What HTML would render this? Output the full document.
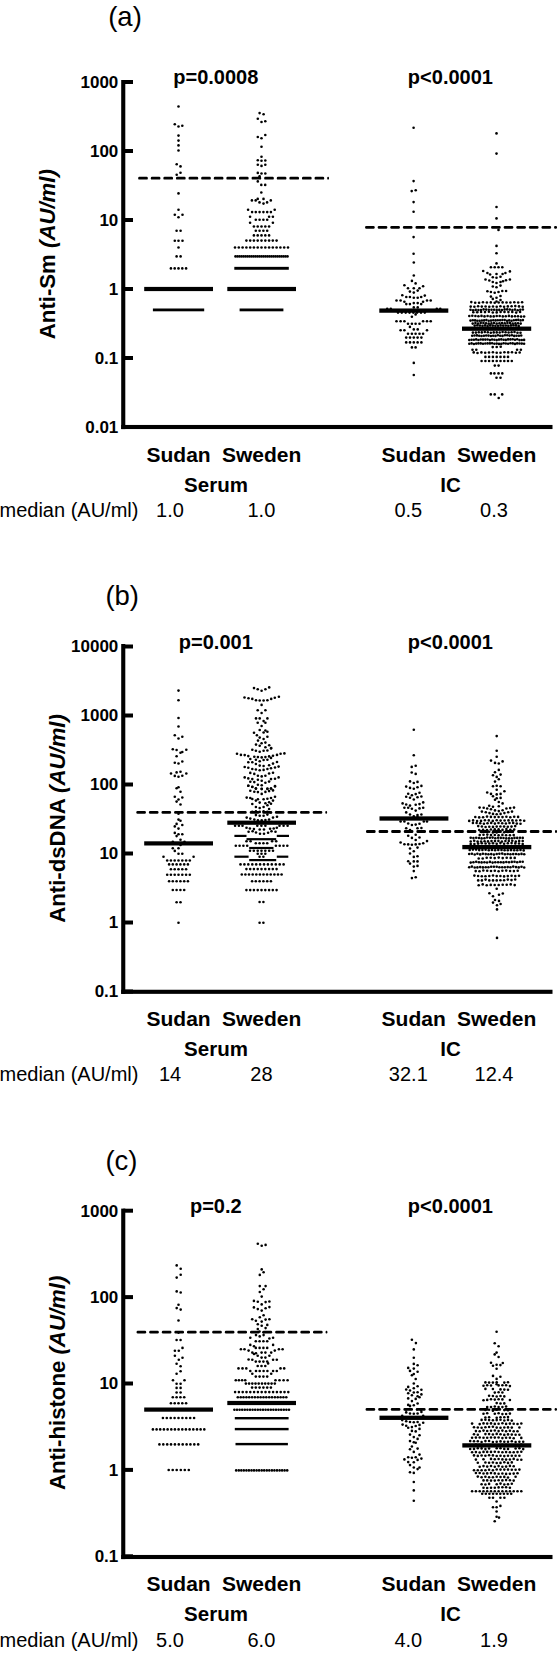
<!DOCTYPE html>
<html><head><meta charset="utf-8"><style>
html,body{margin:0;padding:0;background:#fff;overflow:hidden;width:557px;height:1654px;}
svg{display:block;}
text{font-family:"Liberation Sans",sans-serif;fill:#000;}
</style></head><body>
<svg width="557" height="1654" viewBox="0 0 557 1654">
<rect width="557" height="1654" fill="#fff"/>
<g fill="#000">
<rect x="121.20" y="80.0" width="4.10" height="349.1"/>
<rect x="121.2" y="424.95" width="431.3" height="4.10"/>
<rect x="123.2" y="80.00" width="9.8" height="4.00"/>
<text x="118.3" y="87.8" font-size="17" font-weight="bold" text-anchor="end" >1000</text>
<rect x="123.2" y="149.00" width="9.8" height="4.00"/>
<text x="118.3" y="156.8" font-size="17" font-weight="bold" text-anchor="end" >100</text>
<rect x="123.2" y="218.00" width="9.8" height="4.00"/>
<text x="118.3" y="225.8" font-size="17" font-weight="bold" text-anchor="end" >10</text>
<rect x="123.2" y="287.00" width="9.8" height="4.00"/>
<text x="118.3" y="294.8" font-size="17" font-weight="bold" text-anchor="end" >1</text>
<rect x="123.2" y="356.00" width="9.8" height="4.00"/>
<text x="118.3" y="363.8" font-size="17" font-weight="bold" text-anchor="end" >0.1</text>
<text x="118.3" y="432.8" font-size="17" font-weight="bold" text-anchor="end" >0.01</text>
<text x="108.2" y="25.5" font-size="27.5" font-weight="normal" text-anchor="start" >(a)</text>
<text transform="translate(55.1,339.2) rotate(-90)" font-size="22.2" font-weight="bold"><tspan>Anti-Sm </tspan><tspan font-style="italic">(AU/ml)</tspan></text>
<text x="215.8" y="84.4" font-size="20" font-weight="bold" text-anchor="middle" >p=0.0008</text>
<text x="450.4" y="84.4" font-size="20" font-weight="bold" text-anchor="middle" >p&lt;0.0001</text>
<text x="178.6" y="461.5" font-size="21" font-weight="bold" text-anchor="middle" >Sudan</text>
<text x="261.7" y="461.5" font-size="21" font-weight="bold" text-anchor="middle" >Sweden</text>
<text x="413.7" y="461.5" font-size="21" font-weight="bold" text-anchor="middle" >Sudan</text>
<text x="496.6" y="461.5" font-size="21" font-weight="bold" text-anchor="middle" >Sweden</text>
<text x="216" y="492" font-size="20.5" font-weight="bold" text-anchor="middle" >Serum</text>
<text x="450.6" y="492" font-size="20.5" font-weight="bold" text-anchor="middle" >IC</text>
<text x="-0.5" y="516.6" font-size="20" font-weight="normal" text-anchor="start" >median (AU/ml)</text>
<text x="170" y="516.6" font-size="20" font-weight="normal" text-anchor="middle" >1.0</text>
<text x="261.4" y="516.6" font-size="20" font-weight="normal" text-anchor="middle" >1.0</text>
<text x="408.3" y="516.6" font-size="20" font-weight="normal" text-anchor="middle" >0.5</text>
<text x="494" y="516.6" font-size="20" font-weight="normal" text-anchor="middle" >0.3</text>
<rect x="138.2" y="176.80" width="9.6" height="2.8" rx="1.2"/>
<rect x="150.8" y="176.80" width="9.6" height="2.8" rx="1.2"/>
<rect x="163.4" y="176.80" width="9.6" height="2.8" rx="1.2"/>
<rect x="176.0" y="176.80" width="9.6" height="2.8" rx="1.2"/>
<rect x="188.6" y="176.80" width="9.6" height="2.8" rx="1.2"/>
<rect x="201.2" y="176.80" width="9.6" height="2.8" rx="1.2"/>
<rect x="213.8" y="176.80" width="9.6" height="2.8" rx="1.2"/>
<rect x="226.4" y="176.80" width="9.6" height="2.8" rx="1.2"/>
<rect x="239.0" y="176.80" width="9.6" height="2.8" rx="1.2"/>
<rect x="251.6" y="176.80" width="9.6" height="2.8" rx="1.2"/>
<rect x="264.2" y="176.80" width="9.6" height="2.8" rx="1.2"/>
<rect x="276.8" y="176.80" width="9.6" height="2.8" rx="1.2"/>
<rect x="289.4" y="176.80" width="9.6" height="2.8" rx="1.2"/>
<rect x="302.0" y="176.80" width="9.6" height="2.8" rx="1.2"/>
<rect x="314.6" y="176.80" width="9.6" height="2.8" rx="1.2"/>
<rect x="327.2" y="176.80" width="1.8" height="2.8" rx="1.2"/>
<rect x="365.1" y="225.90" width="9.6" height="2.8" rx="1.2"/>
<rect x="377.7" y="225.90" width="9.6" height="2.8" rx="1.2"/>
<rect x="390.3" y="225.90" width="9.6" height="2.8" rx="1.2"/>
<rect x="402.9" y="225.90" width="9.6" height="2.8" rx="1.2"/>
<rect x="415.5" y="225.90" width="9.6" height="2.8" rx="1.2"/>
<rect x="428.1" y="225.90" width="9.6" height="2.8" rx="1.2"/>
<rect x="440.7" y="225.90" width="9.6" height="2.8" rx="1.2"/>
<rect x="453.3" y="225.90" width="9.6" height="2.8" rx="1.2"/>
<rect x="465.9" y="225.90" width="9.6" height="2.8" rx="1.2"/>
<rect x="478.5" y="225.90" width="9.6" height="2.8" rx="1.2"/>
<rect x="491.1" y="225.90" width="9.6" height="2.8" rx="1.2"/>
<rect x="503.7" y="225.90" width="9.6" height="2.8" rx="1.2"/>
<rect x="516.3" y="225.90" width="9.6" height="2.8" rx="1.2"/>
<rect x="528.9" y="225.90" width="9.6" height="2.8" rx="1.2"/>
<rect x="541.5" y="225.90" width="9.6" height="2.8" rx="1.2"/>
<rect x="554.1" y="225.90" width="2.9" height="2.8" rx="1.2"/>
<rect x="144.2" y="286.90" width="68.8" height="4.20"/>
<rect x="227.3" y="286.90" width="68.7" height="4.20"/>
<rect x="379.3" y="308.45" width="69.0" height="4.30"/>
<rect x="462.0" y="326.55" width="69.2" height="4.30"/>
<circle cx="178.5" cy="106.5" r="1.3"/>
<circle cx="174.8" cy="124.3" r="1.3"/>
<circle cx="178.5" cy="126.5" r="1.3"/>
<circle cx="182.3" cy="125.7" r="1.3"/>
<circle cx="178.5" cy="135.6" r="1.3"/>
<circle cx="178.5" cy="140.6" r="1.3"/>
<circle cx="178.5" cy="145.4" r="1.3"/>
<circle cx="178.5" cy="150.5" r="1.3"/>
<circle cx="176.7" cy="164.2" r="1.3"/>
<circle cx="180.5" cy="166.4" r="1.3"/>
<circle cx="180.5" cy="172.8" r="1.3"/>
<circle cx="176.7" cy="174.8" r="1.3"/>
<circle cx="178.5" cy="193.4" r="1.3"/>
<circle cx="178.5" cy="209.8" r="1.3"/>
<circle cx="174.8" cy="214.7" r="1.3"/>
<circle cx="182.5" cy="214.7" r="1.3"/>
<circle cx="178.5" cy="217.3" r="1.3"/>
<circle cx="176.6" cy="230.8" r="1.3"/>
<circle cx="180.6" cy="230.8" r="1.3"/>
<circle cx="174.8" cy="240.7" r="1.3"/>
<circle cx="178.5" cy="240.7" r="1.3"/>
<circle cx="182.5" cy="240.7" r="1.3"/>
<circle cx="178.5" cy="247.5" r="1.3"/>
<circle cx="176.6" cy="256.4" r="1.3"/>
<circle cx="180.6" cy="256.4" r="1.3"/>
<circle cx="170.9" cy="268.4" r="1.3"/>
<circle cx="174.7" cy="268.4" r="1.3"/>
<circle cx="178.5" cy="268.4" r="1.3"/>
<circle cx="182.3" cy="268.4" r="1.3"/>
<circle cx="186.1" cy="268.4" r="1.3"/>
<rect x="152.9" y="308.50" width="51.3" height="2.80"/>
<circle cx="259.6" cy="113.1" r="1.3"/>
<circle cx="263.6" cy="114.2" r="1.3"/>
<circle cx="257.8" cy="118.8" r="1.3"/>
<circle cx="261.5" cy="122.0" r="1.3"/>
<circle cx="265.3" cy="121.2" r="1.3"/>
<circle cx="257.8" cy="137.0" r="1.3"/>
<circle cx="261.5" cy="138.2" r="1.3"/>
<circle cx="265.3" cy="135.0" r="1.3"/>
<circle cx="261.5" cy="146.7" r="1.3"/>
<circle cx="261.5" cy="156.7" r="1.3"/>
<circle cx="257.8" cy="160.2" r="1.3"/>
<circle cx="261.5" cy="160.8" r="1.3"/>
<circle cx="265.3" cy="160.5" r="1.3"/>
<circle cx="257.8" cy="164.8" r="1.3"/>
<circle cx="261.5" cy="165.9" r="1.3"/>
<circle cx="265.3" cy="164.8" r="1.3"/>
<circle cx="257.8" cy="172.9" r="1.3"/>
<circle cx="261.5" cy="173.5" r="1.3"/>
<circle cx="265.3" cy="173.5" r="1.3"/>
<circle cx="259.6" cy="176.3" r="1.3"/>
<circle cx="257.8" cy="181.4" r="1.3"/>
<circle cx="261.3" cy="184.9" r="1.3"/>
<circle cx="265.2" cy="184.9" r="1.3"/>
<circle cx="261.3" cy="192.5" r="1.3"/>
<circle cx="251.9" cy="200.4" r="1.3"/>
<circle cx="255.7" cy="200.4" r="1.3"/>
<circle cx="257.7" cy="198.9" r="1.3"/>
<circle cx="263.5" cy="198.9" r="1.3"/>
<circle cx="270.8" cy="200.4" r="1.3"/>
<circle cx="259.5" cy="202.4" r="1.3"/>
<circle cx="263.5" cy="203.6" r="1.3"/>
<circle cx="267.1" cy="202.4" r="1.3"/>
<circle cx="248.1" cy="209.8" r="1.3"/>
<circle cx="274.7" cy="209.8" r="1.3"/>
<circle cx="250.1" cy="216.8" r="1.3"/>
<circle cx="269.1" cy="216.8" r="1.3"/>
<circle cx="272.9" cy="216.8" r="1.3"/>
<circle cx="250.1" cy="222.8" r="1.3"/>
<circle cx="272.9" cy="222.8" r="1.3"/>
<circle cx="252.1" cy="212.1" r="1.3"/>
<circle cx="255.8" cy="212.1" r="1.3"/>
<circle cx="259.6" cy="212.1" r="1.3"/>
<circle cx="263.4" cy="212.1" r="1.3"/>
<circle cx="267.2" cy="212.1" r="1.3"/>
<circle cx="270.9" cy="212.1" r="1.3"/>
<circle cx="255.8" cy="219.7" r="1.3"/>
<circle cx="259.6" cy="219.7" r="1.3"/>
<circle cx="263.4" cy="219.7" r="1.3"/>
<circle cx="267.2" cy="219.7" r="1.3"/>
<circle cx="253.9" cy="226.5" r="1.3"/>
<circle cx="257.7" cy="226.5" r="1.3"/>
<circle cx="261.5" cy="226.5" r="1.3"/>
<circle cx="265.3" cy="226.5" r="1.3"/>
<circle cx="269.1" cy="226.5" r="1.3"/>
<circle cx="255.8" cy="230.7" r="1.3"/>
<circle cx="259.6" cy="230.7" r="1.3"/>
<circle cx="263.4" cy="230.7" r="1.3"/>
<circle cx="267.2" cy="230.7" r="1.3"/>
<circle cx="253.9" cy="235.4" r="1.3"/>
<circle cx="257.7" cy="235.4" r="1.3"/>
<circle cx="261.5" cy="235.4" r="1.3"/>
<circle cx="265.3" cy="235.4" r="1.3"/>
<circle cx="269.1" cy="235.4" r="1.3"/>
<circle cx="246.4" cy="240.6" r="1.3"/>
<circle cx="250.2" cy="240.6" r="1.3"/>
<circle cx="253.9" cy="240.6" r="1.3"/>
<circle cx="257.7" cy="240.6" r="1.3"/>
<circle cx="261.5" cy="240.6" r="1.3"/>
<circle cx="265.3" cy="240.6" r="1.3"/>
<circle cx="269.1" cy="240.6" r="1.3"/>
<circle cx="272.8" cy="240.6" r="1.3"/>
<circle cx="276.6" cy="240.6" r="1.3"/>
<circle cx="235.0" cy="247.5" r="1.3"/>
<circle cx="238.8" cy="247.5" r="1.3"/>
<circle cx="242.6" cy="247.5" r="1.3"/>
<circle cx="246.4" cy="247.5" r="1.3"/>
<circle cx="250.2" cy="247.5" r="1.3"/>
<circle cx="253.9" cy="247.5" r="1.3"/>
<circle cx="257.7" cy="247.5" r="1.3"/>
<circle cx="261.5" cy="247.5" r="1.3"/>
<circle cx="265.3" cy="247.5" r="1.3"/>
<circle cx="269.1" cy="247.5" r="1.3"/>
<circle cx="272.8" cy="247.5" r="1.3"/>
<circle cx="276.6" cy="247.5" r="1.3"/>
<circle cx="280.4" cy="247.5" r="1.3"/>
<circle cx="284.2" cy="247.5" r="1.3"/>
<circle cx="288.0" cy="247.5" r="1.3"/>
<circle cx="235.5" cy="256.4" r="1.3"/>
<circle cx="237.5" cy="256.4" r="1.3"/>
<circle cx="239.5" cy="256.4" r="1.3"/>
<circle cx="241.5" cy="256.4" r="1.3"/>
<circle cx="243.5" cy="256.4" r="1.3"/>
<circle cx="245.5" cy="256.4" r="1.3"/>
<circle cx="247.5" cy="256.4" r="1.3"/>
<circle cx="249.5" cy="256.4" r="1.3"/>
<circle cx="251.5" cy="256.4" r="1.3"/>
<circle cx="253.5" cy="256.4" r="1.3"/>
<circle cx="255.5" cy="256.4" r="1.3"/>
<circle cx="257.5" cy="256.4" r="1.3"/>
<circle cx="259.5" cy="256.4" r="1.3"/>
<circle cx="261.5" cy="256.4" r="1.3"/>
<circle cx="263.5" cy="256.4" r="1.3"/>
<circle cx="265.5" cy="256.4" r="1.3"/>
<circle cx="267.5" cy="256.4" r="1.3"/>
<circle cx="269.5" cy="256.4" r="1.3"/>
<circle cx="271.5" cy="256.4" r="1.3"/>
<circle cx="273.5" cy="256.4" r="1.3"/>
<circle cx="275.5" cy="256.4" r="1.3"/>
<circle cx="277.5" cy="256.4" r="1.3"/>
<circle cx="279.5" cy="256.4" r="1.3"/>
<circle cx="281.5" cy="256.4" r="1.3"/>
<circle cx="283.5" cy="256.4" r="1.3"/>
<circle cx="285.5" cy="256.4" r="1.3"/>
<circle cx="287.5" cy="256.4" r="1.3"/>
<rect x="234.3" y="266.85" width="54.5" height="2.90"/>
<rect x="239.6" y="308.50" width="43.8" height="2.80"/>
<circle cx="413.6" cy="127.8" r="1.3"/>
<circle cx="413.6" cy="181.1" r="1.3"/>
<circle cx="411.7" cy="191.1" r="1.3"/>
<circle cx="415.7" cy="190.3" r="1.3"/>
<circle cx="413.6" cy="202.1" r="1.3"/>
<circle cx="413.6" cy="211.8" r="1.3"/>
<circle cx="413.6" cy="237.1" r="1.3"/>
<circle cx="413.6" cy="253.8" r="1.3"/>
<circle cx="413.8" cy="262.5" r="1.3"/>
<circle cx="413.8" cy="275.5" r="1.3"/>
<circle cx="411.9" cy="280.9" r="1.3"/>
<circle cx="415.6" cy="283.4" r="1.3"/>
<circle cx="404.4" cy="285.2" r="1.3"/>
<circle cx="423.1" cy="286.3" r="1.3"/>
<circle cx="408.0" cy="288.3" r="1.3"/>
<circle cx="413.8" cy="288.3" r="1.3"/>
<circle cx="419.5" cy="288.3" r="1.3"/>
<circle cx="409.9" cy="291.6" r="1.3"/>
<circle cx="413.8" cy="292.6" r="1.3"/>
<circle cx="417.7" cy="290.6" r="1.3"/>
<circle cx="402.3" cy="295.2" r="1.3"/>
<circle cx="424.8" cy="295.6" r="1.3"/>
<circle cx="406.3" cy="297.0" r="1.3"/>
<circle cx="409.9" cy="297.0" r="1.3"/>
<circle cx="413.8" cy="297.8" r="1.3"/>
<circle cx="417.7" cy="297.8" r="1.3"/>
<circle cx="421.2" cy="297.0" r="1.3"/>
<circle cx="396.5" cy="300.5" r="1.3"/>
<circle cx="400.6" cy="300.5" r="1.3"/>
<circle cx="404.4" cy="301.7" r="1.3"/>
<circle cx="423.1" cy="301.7" r="1.3"/>
<circle cx="427.0" cy="300.5" r="1.3"/>
<circle cx="430.7" cy="300.5" r="1.3"/>
<circle cx="406.3" cy="304.1" r="1.3"/>
<circle cx="409.9" cy="304.1" r="1.3"/>
<circle cx="413.8" cy="303.1" r="1.3"/>
<circle cx="417.7" cy="303.1" r="1.3"/>
<circle cx="421.2" cy="304.1" r="1.3"/>
<circle cx="413.8" cy="307.4" r="1.3"/>
<circle cx="417.7" cy="307.4" r="1.3"/>
<circle cx="387.2" cy="308.9" r="1.3"/>
<circle cx="390.8" cy="308.9" r="1.3"/>
<circle cx="436.8" cy="308.9" r="1.3"/>
<circle cx="440.3" cy="308.9" r="1.3"/>
<circle cx="415.6" cy="314.4" r="1.3"/>
<circle cx="411.9" cy="316.8" r="1.3"/>
<circle cx="409.9" cy="326.9" r="1.3"/>
<circle cx="400.6" cy="330.2" r="1.3"/>
<circle cx="404.4" cy="330.2" r="1.3"/>
<circle cx="413.8" cy="329.4" r="1.3"/>
<circle cx="417.7" cy="329.4" r="1.3"/>
<circle cx="427.0" cy="330.2" r="1.3"/>
<circle cx="423.1" cy="333.8" r="1.3"/>
<circle cx="411.9" cy="347.4" r="1.3"/>
<circle cx="415.6" cy="347.4" r="1.3"/>
<circle cx="413.8" cy="362.9" r="1.3"/>
<circle cx="413.8" cy="375.0" r="1.3"/>
<circle cx="398.0" cy="312.6" r="1.3"/>
<circle cx="401.8" cy="312.6" r="1.3"/>
<circle cx="405.7" cy="312.6" r="1.3"/>
<circle cx="409.5" cy="312.6" r="1.3"/>
<circle cx="413.3" cy="312.6" r="1.3"/>
<circle cx="417.1" cy="312.6" r="1.3"/>
<circle cx="421.0" cy="312.6" r="1.3"/>
<circle cx="424.8" cy="312.6" r="1.3"/>
<circle cx="396.5" cy="321.3" r="1.3"/>
<circle cx="400.6" cy="321.3" r="1.3"/>
<circle cx="404.4" cy="321.3" r="1.3"/>
<circle cx="423.1" cy="321.3" r="1.3"/>
<circle cx="427.0" cy="321.3" r="1.3"/>
<circle cx="430.7" cy="321.3" r="1.3"/>
<circle cx="408.0" cy="323.7" r="1.3"/>
<circle cx="411.9" cy="323.7" r="1.3"/>
<circle cx="415.6" cy="323.7" r="1.3"/>
<circle cx="419.5" cy="323.7" r="1.3"/>
<circle cx="408.0" cy="333.8" r="1.3"/>
<circle cx="411.9" cy="333.8" r="1.3"/>
<circle cx="415.6" cy="333.8" r="1.3"/>
<circle cx="419.5" cy="333.8" r="1.3"/>
<circle cx="406.2" cy="337.6" r="1.3"/>
<circle cx="410.0" cy="337.6" r="1.3"/>
<circle cx="413.8" cy="337.6" r="1.3"/>
<circle cx="417.6" cy="337.6" r="1.3"/>
<circle cx="421.4" cy="337.6" r="1.3"/>
<circle cx="406.2" cy="342.4" r="1.3"/>
<circle cx="410.0" cy="342.4" r="1.3"/>
<circle cx="413.8" cy="342.4" r="1.3"/>
<circle cx="417.6" cy="342.4" r="1.3"/>
<circle cx="421.4" cy="342.4" r="1.3"/>
<circle cx="496.5" cy="133.4" r="1.3"/>
<circle cx="496.5" cy="153.6" r="1.3"/>
<circle cx="496.5" cy="207.0" r="1.3"/>
<circle cx="496.5" cy="218.4" r="1.3"/>
<circle cx="498.5" cy="229.9" r="1.3"/>
<circle cx="496.5" cy="245.9" r="1.3"/>
<circle cx="496.5" cy="253.2" r="1.3"/>
<circle cx="496.5" cy="263.4" r="1.3"/>
<circle cx="490.9" cy="267.2" r="1.3"/>
<circle cx="494.7" cy="267.2" r="1.3"/>
<circle cx="498.5" cy="267.2" r="1.3"/>
<circle cx="502.3" cy="267.2" r="1.3"/>
<circle cx="483.2" cy="271.0" r="1.3"/>
<circle cx="509.9" cy="271.4" r="1.3"/>
<circle cx="487.4" cy="273.0" r="1.3"/>
<circle cx="490.1" cy="274.5" r="1.3"/>
<circle cx="496.5" cy="274.0" r="1.3"/>
<circle cx="502.6" cy="274.0" r="1.3"/>
<circle cx="505.4" cy="273.0" r="1.3"/>
<circle cx="492.8" cy="277.3" r="1.3"/>
<circle cx="496.5" cy="277.8" r="1.3"/>
<circle cx="500.5" cy="276.8" r="1.3"/>
<circle cx="485.5" cy="279.5" r="1.3"/>
<circle cx="489.3" cy="280.5" r="1.3"/>
<circle cx="492.8" cy="282.0" r="1.3"/>
<circle cx="496.5" cy="283.0" r="1.3"/>
<circle cx="500.5" cy="282.0" r="1.3"/>
<circle cx="503.0" cy="281.3" r="1.3"/>
<circle cx="506.0" cy="280.2" r="1.3"/>
<circle cx="509.9" cy="279.5" r="1.3"/>
<circle cx="492.8" cy="286.5" r="1.3"/>
<circle cx="496.5" cy="287.2" r="1.3"/>
<circle cx="500.5" cy="285.6" r="1.3"/>
<circle cx="487.4" cy="291.3" r="1.3"/>
<circle cx="490.9" cy="292.0" r="1.3"/>
<circle cx="494.7" cy="292.8" r="1.3"/>
<circle cx="498.5" cy="292.0" r="1.3"/>
<circle cx="502.3" cy="291.0" r="1.3"/>
<circle cx="506.1" cy="291.0" r="1.3"/>
<circle cx="490.9" cy="296.6" r="1.3"/>
<circle cx="492.8" cy="298.9" r="1.3"/>
<circle cx="496.5" cy="297.8" r="1.3"/>
<circle cx="500.5" cy="296.0" r="1.3"/>
<circle cx="500.5" cy="300.0" r="1.3"/>
<circle cx="496.5" cy="301.5" r="1.3"/>
<circle cx="471.3" cy="302.1" r="1.3"/>
<circle cx="475.2" cy="302.8" r="1.3"/>
<circle cx="479.1" cy="302.7" r="1.3"/>
<circle cx="483.0" cy="302.3" r="1.3"/>
<circle cx="486.9" cy="302.5" r="1.3"/>
<circle cx="490.8" cy="302.4" r="1.3"/>
<circle cx="494.7" cy="302.7" r="1.3"/>
<circle cx="498.7" cy="302.5" r="1.3"/>
<circle cx="502.6" cy="302.4" r="1.3"/>
<circle cx="506.5" cy="302.5" r="1.3"/>
<circle cx="510.4" cy="302.5" r="1.3"/>
<circle cx="514.3" cy="302.2" r="1.3"/>
<circle cx="518.2" cy="302.5" r="1.3"/>
<circle cx="522.1" cy="302.3" r="1.3"/>
<circle cx="470.7" cy="306.6" r="1.3"/>
<circle cx="474.4" cy="306.8" r="1.3"/>
<circle cx="478.1" cy="306.2" r="1.3"/>
<circle cx="481.8" cy="306.6" r="1.3"/>
<circle cx="485.6" cy="306.5" r="1.3"/>
<circle cx="489.3" cy="306.7" r="1.3"/>
<circle cx="493.0" cy="306.5" r="1.3"/>
<circle cx="496.7" cy="306.8" r="1.3"/>
<circle cx="500.4" cy="306.2" r="1.3"/>
<circle cx="504.1" cy="306.7" r="1.3"/>
<circle cx="507.8" cy="306.4" r="1.3"/>
<circle cx="511.6" cy="306.2" r="1.3"/>
<circle cx="515.3" cy="306.1" r="1.3"/>
<circle cx="519.0" cy="306.4" r="1.3"/>
<circle cx="522.7" cy="306.8" r="1.3"/>
<circle cx="470.5" cy="309.8" r="1.3"/>
<circle cx="473.1" cy="310.2" r="1.3"/>
<circle cx="475.7" cy="309.9" r="1.3"/>
<circle cx="478.4" cy="310.1" r="1.3"/>
<circle cx="481.0" cy="310.1" r="1.3"/>
<circle cx="483.6" cy="309.4" r="1.3"/>
<circle cx="486.2" cy="309.6" r="1.3"/>
<circle cx="488.8" cy="309.8" r="1.3"/>
<circle cx="491.5" cy="309.8" r="1.3"/>
<circle cx="494.1" cy="309.7" r="1.3"/>
<circle cx="496.7" cy="309.9" r="1.3"/>
<circle cx="499.3" cy="309.9" r="1.3"/>
<circle cx="501.9" cy="310.1" r="1.3"/>
<circle cx="504.6" cy="309.4" r="1.3"/>
<circle cx="507.2" cy="309.4" r="1.3"/>
<circle cx="509.8" cy="309.6" r="1.3"/>
<circle cx="512.4" cy="310.1" r="1.3"/>
<circle cx="515.0" cy="309.6" r="1.3"/>
<circle cx="517.7" cy="310.2" r="1.3"/>
<circle cx="520.3" cy="309.7" r="1.3"/>
<circle cx="522.9" cy="309.5" r="1.3"/>
<circle cx="473.3" cy="312.2" r="1.3"/>
<circle cx="477.2" cy="312.2" r="1.3"/>
<circle cx="481.1" cy="312.0" r="1.3"/>
<circle cx="485.0" cy="312.1" r="1.3"/>
<circle cx="488.9" cy="311.8" r="1.3"/>
<circle cx="492.8" cy="312.5" r="1.3"/>
<circle cx="496.7" cy="312.4" r="1.3"/>
<circle cx="500.6" cy="312.0" r="1.3"/>
<circle cx="504.5" cy="311.9" r="1.3"/>
<circle cx="508.4" cy="312.1" r="1.3"/>
<circle cx="512.3" cy="311.9" r="1.3"/>
<circle cx="516.2" cy="312.6" r="1.3"/>
<circle cx="520.1" cy="312.0" r="1.3"/>
<circle cx="469.3" cy="316.0" r="1.3"/>
<circle cx="472.3" cy="315.8" r="1.3"/>
<circle cx="475.4" cy="316.0" r="1.3"/>
<circle cx="478.4" cy="316.3" r="1.3"/>
<circle cx="481.5" cy="315.9" r="1.3"/>
<circle cx="484.5" cy="316.4" r="1.3"/>
<circle cx="487.6" cy="316.0" r="1.3"/>
<circle cx="490.6" cy="316.4" r="1.3"/>
<circle cx="493.7" cy="316.4" r="1.3"/>
<circle cx="496.7" cy="316.0" r="1.3"/>
<circle cx="499.7" cy="316.0" r="1.3"/>
<circle cx="502.8" cy="316.4" r="1.3"/>
<circle cx="505.8" cy="316.3" r="1.3"/>
<circle cx="508.9" cy="315.9" r="1.3"/>
<circle cx="511.9" cy="316.4" r="1.3"/>
<circle cx="515.0" cy="316.2" r="1.3"/>
<circle cx="518.0" cy="316.2" r="1.3"/>
<circle cx="521.1" cy="316.6" r="1.3"/>
<circle cx="524.1" cy="316.5" r="1.3"/>
<circle cx="470.5" cy="320.6" r="1.3"/>
<circle cx="472.8" cy="320.3" r="1.3"/>
<circle cx="475.1" cy="320.4" r="1.3"/>
<circle cx="477.3" cy="320.7" r="1.3"/>
<circle cx="479.6" cy="320.7" r="1.3"/>
<circle cx="481.9" cy="320.5" r="1.3"/>
<circle cx="484.2" cy="320.4" r="1.3"/>
<circle cx="486.4" cy="320.1" r="1.3"/>
<circle cx="488.7" cy="320.7" r="1.3"/>
<circle cx="491.0" cy="320.6" r="1.3"/>
<circle cx="493.3" cy="320.3" r="1.3"/>
<circle cx="495.6" cy="320.4" r="1.3"/>
<circle cx="497.8" cy="320.2" r="1.3"/>
<circle cx="500.1" cy="320.2" r="1.3"/>
<circle cx="502.4" cy="320.0" r="1.3"/>
<circle cx="504.7" cy="320.1" r="1.3"/>
<circle cx="507.0" cy="320.7" r="1.3"/>
<circle cx="509.2" cy="320.4" r="1.3"/>
<circle cx="511.5" cy="320.7" r="1.3"/>
<circle cx="513.8" cy="320.3" r="1.3"/>
<circle cx="516.1" cy="320.1" r="1.3"/>
<circle cx="518.3" cy="319.9" r="1.3"/>
<circle cx="520.6" cy="320.4" r="1.3"/>
<circle cx="522.9" cy="320.1" r="1.3"/>
<circle cx="472.7" cy="323.6" r="1.3"/>
<circle cx="475.4" cy="323.0" r="1.3"/>
<circle cx="478.0" cy="323.6" r="1.3"/>
<circle cx="480.7" cy="322.9" r="1.3"/>
<circle cx="483.4" cy="323.0" r="1.3"/>
<circle cx="486.0" cy="323.3" r="1.3"/>
<circle cx="488.7" cy="323.6" r="1.3"/>
<circle cx="491.4" cy="323.4" r="1.3"/>
<circle cx="494.0" cy="323.0" r="1.3"/>
<circle cx="496.7" cy="323.6" r="1.3"/>
<circle cx="499.4" cy="323.2" r="1.3"/>
<circle cx="502.0" cy="323.1" r="1.3"/>
<circle cx="504.7" cy="323.2" r="1.3"/>
<circle cx="507.4" cy="323.1" r="1.3"/>
<circle cx="510.0" cy="323.0" r="1.3"/>
<circle cx="512.7" cy="323.5" r="1.3"/>
<circle cx="515.4" cy="323.4" r="1.3"/>
<circle cx="518.0" cy="323.3" r="1.3"/>
<circle cx="520.7" cy="323.6" r="1.3"/>
<circle cx="474.7" cy="325.6" r="1.3"/>
<circle cx="477.3" cy="325.3" r="1.3"/>
<circle cx="479.9" cy="325.5" r="1.3"/>
<circle cx="482.5" cy="325.8" r="1.3"/>
<circle cx="485.1" cy="325.4" r="1.3"/>
<circle cx="487.6" cy="325.9" r="1.3"/>
<circle cx="490.2" cy="325.4" r="1.3"/>
<circle cx="492.8" cy="325.6" r="1.3"/>
<circle cx="495.4" cy="325.8" r="1.3"/>
<circle cx="498.0" cy="325.8" r="1.3"/>
<circle cx="500.6" cy="325.4" r="1.3"/>
<circle cx="503.2" cy="325.6" r="1.3"/>
<circle cx="505.8" cy="325.5" r="1.3"/>
<circle cx="508.3" cy="325.7" r="1.3"/>
<circle cx="510.9" cy="325.4" r="1.3"/>
<circle cx="513.5" cy="325.3" r="1.3"/>
<circle cx="516.1" cy="325.4" r="1.3"/>
<circle cx="518.7" cy="325.9" r="1.3"/>
<circle cx="472.9" cy="332.6" r="1.3"/>
<circle cx="475.9" cy="332.6" r="1.3"/>
<circle cx="478.8" cy="332.3" r="1.3"/>
<circle cx="481.8" cy="332.4" r="1.3"/>
<circle cx="484.8" cy="332.0" r="1.3"/>
<circle cx="487.8" cy="332.2" r="1.3"/>
<circle cx="490.8" cy="332.7" r="1.3"/>
<circle cx="493.7" cy="332.4" r="1.3"/>
<circle cx="496.7" cy="332.4" r="1.3"/>
<circle cx="499.7" cy="332.5" r="1.3"/>
<circle cx="502.6" cy="332.0" r="1.3"/>
<circle cx="505.6" cy="332.2" r="1.3"/>
<circle cx="508.6" cy="332.5" r="1.3"/>
<circle cx="511.6" cy="332.2" r="1.3"/>
<circle cx="514.5" cy="332.0" r="1.3"/>
<circle cx="517.5" cy="332.7" r="1.3"/>
<circle cx="520.5" cy="332.7" r="1.3"/>
<circle cx="472.2" cy="335.7" r="1.3"/>
<circle cx="474.5" cy="335.5" r="1.3"/>
<circle cx="476.9" cy="335.4" r="1.3"/>
<circle cx="479.2" cy="335.7" r="1.3"/>
<circle cx="481.5" cy="336.0" r="1.3"/>
<circle cx="483.9" cy="335.8" r="1.3"/>
<circle cx="486.2" cy="335.5" r="1.3"/>
<circle cx="488.5" cy="335.6" r="1.3"/>
<circle cx="490.9" cy="336.0" r="1.3"/>
<circle cx="493.2" cy="335.7" r="1.3"/>
<circle cx="495.5" cy="335.9" r="1.3"/>
<circle cx="497.9" cy="335.2" r="1.3"/>
<circle cx="500.2" cy="335.8" r="1.3"/>
<circle cx="502.5" cy="335.9" r="1.3"/>
<circle cx="504.9" cy="335.3" r="1.3"/>
<circle cx="507.2" cy="335.3" r="1.3"/>
<circle cx="509.5" cy="335.6" r="1.3"/>
<circle cx="511.9" cy="335.3" r="1.3"/>
<circle cx="514.2" cy="335.9" r="1.3"/>
<circle cx="516.5" cy="335.8" r="1.3"/>
<circle cx="518.9" cy="335.7" r="1.3"/>
<circle cx="521.2" cy="335.5" r="1.3"/>
<circle cx="469.3" cy="340.0" r="1.3"/>
<circle cx="471.6" cy="339.8" r="1.3"/>
<circle cx="473.9" cy="339.7" r="1.3"/>
<circle cx="476.2" cy="339.4" r="1.3"/>
<circle cx="478.4" cy="340.0" r="1.3"/>
<circle cx="480.7" cy="339.5" r="1.3"/>
<circle cx="483.0" cy="339.6" r="1.3"/>
<circle cx="485.3" cy="339.6" r="1.3"/>
<circle cx="487.6" cy="339.5" r="1.3"/>
<circle cx="489.9" cy="340.1" r="1.3"/>
<circle cx="492.1" cy="339.5" r="1.3"/>
<circle cx="494.4" cy="339.7" r="1.3"/>
<circle cx="496.7" cy="340.1" r="1.3"/>
<circle cx="499.0" cy="339.6" r="1.3"/>
<circle cx="501.3" cy="339.4" r="1.3"/>
<circle cx="503.6" cy="339.7" r="1.3"/>
<circle cx="505.8" cy="339.9" r="1.3"/>
<circle cx="508.1" cy="339.4" r="1.3"/>
<circle cx="510.4" cy="339.4" r="1.3"/>
<circle cx="512.7" cy="339.3" r="1.3"/>
<circle cx="515.0" cy="339.8" r="1.3"/>
<circle cx="517.2" cy="339.3" r="1.3"/>
<circle cx="519.5" cy="340.1" r="1.3"/>
<circle cx="521.8" cy="340.0" r="1.3"/>
<circle cx="524.1" cy="339.9" r="1.3"/>
<circle cx="469.3" cy="343.7" r="1.3"/>
<circle cx="471.6" cy="343.4" r="1.3"/>
<circle cx="473.9" cy="344.0" r="1.3"/>
<circle cx="476.2" cy="343.6" r="1.3"/>
<circle cx="478.4" cy="343.4" r="1.3"/>
<circle cx="480.7" cy="343.4" r="1.3"/>
<circle cx="483.0" cy="343.7" r="1.3"/>
<circle cx="485.3" cy="343.5" r="1.3"/>
<circle cx="487.6" cy="343.4" r="1.3"/>
<circle cx="489.9" cy="343.4" r="1.3"/>
<circle cx="492.1" cy="343.3" r="1.3"/>
<circle cx="494.4" cy="343.7" r="1.3"/>
<circle cx="496.7" cy="343.6" r="1.3"/>
<circle cx="499.0" cy="343.9" r="1.3"/>
<circle cx="501.3" cy="343.9" r="1.3"/>
<circle cx="503.6" cy="343.3" r="1.3"/>
<circle cx="505.8" cy="343.5" r="1.3"/>
<circle cx="508.1" cy="343.7" r="1.3"/>
<circle cx="510.4" cy="343.3" r="1.3"/>
<circle cx="512.7" cy="343.4" r="1.3"/>
<circle cx="515.0" cy="343.9" r="1.3"/>
<circle cx="517.2" cy="343.4" r="1.3"/>
<circle cx="519.5" cy="343.5" r="1.3"/>
<circle cx="521.8" cy="343.6" r="1.3"/>
<circle cx="524.1" cy="343.7" r="1.3"/>
<circle cx="492.7" cy="347.1" r="1.3"/>
<circle cx="496.7" cy="347.0" r="1.3"/>
<circle cx="500.7" cy="346.7" r="1.3"/>
<circle cx="473.7" cy="352.4" r="1.3"/>
<circle cx="477.5" cy="353.0" r="1.3"/>
<circle cx="481.4" cy="352.4" r="1.3"/>
<circle cx="485.2" cy="352.8" r="1.3"/>
<circle cx="489.0" cy="352.5" r="1.3"/>
<circle cx="492.9" cy="352.3" r="1.3"/>
<circle cx="496.7" cy="352.7" r="1.3"/>
<circle cx="500.5" cy="352.7" r="1.3"/>
<circle cx="504.4" cy="352.3" r="1.3"/>
<circle cx="508.2" cy="352.4" r="1.3"/>
<circle cx="512.0" cy="352.3" r="1.3"/>
<circle cx="515.9" cy="352.8" r="1.3"/>
<circle cx="519.7" cy="352.5" r="1.3"/>
<circle cx="472.5" cy="349.8" r="1.3"/>
<circle cx="476.3" cy="349.8" r="1.3"/>
<circle cx="517.1" cy="349.8" r="1.3"/>
<circle cx="520.9" cy="349.8" r="1.3"/>
<circle cx="485.4" cy="356.9" r="1.3"/>
<circle cx="489.1" cy="356.9" r="1.3"/>
<circle cx="492.9" cy="356.9" r="1.3"/>
<circle cx="496.7" cy="356.9" r="1.3"/>
<circle cx="500.5" cy="356.9" r="1.3"/>
<circle cx="504.3" cy="356.9" r="1.3"/>
<circle cx="508.0" cy="356.9" r="1.3"/>
<circle cx="481.6" cy="361.0" r="1.3"/>
<circle cx="485.4" cy="361.0" r="1.3"/>
<circle cx="489.1" cy="361.0" r="1.3"/>
<circle cx="492.9" cy="361.0" r="1.3"/>
<circle cx="496.7" cy="361.0" r="1.3"/>
<circle cx="500.5" cy="361.0" r="1.3"/>
<circle cx="504.3" cy="361.0" r="1.3"/>
<circle cx="508.0" cy="361.0" r="1.3"/>
<circle cx="511.8" cy="361.0" r="1.3"/>
<circle cx="494.8" cy="365.6" r="1.3"/>
<circle cx="498.6" cy="365.6" r="1.3"/>
<circle cx="490.9" cy="373.4" r="1.3"/>
<circle cx="494.4" cy="373.4" r="1.3"/>
<circle cx="498.5" cy="373.4" r="1.3"/>
<circle cx="502.3" cy="373.4" r="1.3"/>
<circle cx="496.5" cy="377.8" r="1.3"/>
<circle cx="500.5" cy="377.8" r="1.3"/>
<circle cx="490.8" cy="394.4" r="1.3"/>
<circle cx="494.7" cy="394.4" r="1.3"/>
<circle cx="502.2" cy="394.4" r="1.3"/>
<circle cx="498.7" cy="398.0" r="1.3"/>
<rect x="121.20" y="644.0" width="4.10" height="349.9"/>
<rect x="121.2" y="989.75" width="431.3" height="4.10"/>
<rect x="123.2" y="644.50" width="9.8" height="4.00"/>
<text x="118.3" y="652.3" font-size="17" font-weight="bold" text-anchor="end" >10000</text>
<rect x="123.2" y="713.50" width="9.8" height="4.00"/>
<text x="118.3" y="721.3" font-size="17" font-weight="bold" text-anchor="end" >1000</text>
<rect x="123.2" y="782.50" width="9.8" height="4.00"/>
<text x="118.3" y="790.3" font-size="17" font-weight="bold" text-anchor="end" >100</text>
<rect x="123.2" y="851.50" width="9.8" height="4.00"/>
<text x="118.3" y="859.3" font-size="17" font-weight="bold" text-anchor="end" >10</text>
<rect x="123.2" y="920.50" width="9.8" height="4.00"/>
<text x="118.3" y="928.3" font-size="17" font-weight="bold" text-anchor="end" >1</text>
<rect x="123.2" y="989.50" width="9.8" height="4.00"/>
<text x="118.3" y="997.3" font-size="17" font-weight="bold" text-anchor="end" >0.1</text>
<text x="105.4" y="604.5" font-size="27.5" font-weight="normal" text-anchor="start" >(b)</text>
<text transform="translate(64.6,922.8) rotate(-90)" font-size="22.2" font-weight="bold"><tspan>Anti-dsDNA </tspan><tspan font-style="italic">(AU/ml)</tspan></text>
<text x="215.8" y="648.7" font-size="20" font-weight="bold" text-anchor="middle" >p=0.001</text>
<text x="450.4" y="648.7" font-size="20" font-weight="bold" text-anchor="middle" >p&lt;0.0001</text>
<text x="178.6" y="1026.4" font-size="21" font-weight="bold" text-anchor="middle" >Sudan</text>
<text x="261.7" y="1026.4" font-size="21" font-weight="bold" text-anchor="middle" >Sweden</text>
<text x="413.7" y="1026.4" font-size="21" font-weight="bold" text-anchor="middle" >Sudan</text>
<text x="496.6" y="1026.4" font-size="21" font-weight="bold" text-anchor="middle" >Sweden</text>
<text x="216" y="1056.3" font-size="20.5" font-weight="bold" text-anchor="middle" >Serum</text>
<text x="450.6" y="1056.3" font-size="20.5" font-weight="bold" text-anchor="middle" >IC</text>
<text x="-0.5" y="1081.3" font-size="20" font-weight="normal" text-anchor="start" >median (AU/ml)</text>
<text x="170" y="1081.3" font-size="20" font-weight="normal" text-anchor="middle" >14</text>
<text x="261.4" y="1081.3" font-size="20" font-weight="normal" text-anchor="middle" >28</text>
<text x="408.3" y="1081.3" font-size="20" font-weight="normal" text-anchor="middle" >32.1</text>
<text x="494" y="1081.3" font-size="20" font-weight="normal" text-anchor="middle" >12.4</text>
<rect x="136.3" y="811.00" width="9.6" height="2.8" rx="1.2"/>
<rect x="148.9" y="811.00" width="9.6" height="2.8" rx="1.2"/>
<rect x="161.5" y="811.00" width="9.6" height="2.8" rx="1.2"/>
<rect x="174.1" y="811.00" width="9.6" height="2.8" rx="1.2"/>
<rect x="186.7" y="811.00" width="9.6" height="2.8" rx="1.2"/>
<rect x="199.3" y="811.00" width="9.6" height="2.8" rx="1.2"/>
<rect x="211.9" y="811.00" width="9.6" height="2.8" rx="1.2"/>
<rect x="224.5" y="811.00" width="9.6" height="2.8" rx="1.2"/>
<rect x="237.1" y="811.00" width="9.6" height="2.8" rx="1.2"/>
<rect x="249.7" y="811.00" width="9.6" height="2.8" rx="1.2"/>
<rect x="262.3" y="811.00" width="9.6" height="2.8" rx="1.2"/>
<rect x="274.9" y="811.00" width="9.6" height="2.8" rx="1.2"/>
<rect x="287.5" y="811.00" width="9.6" height="2.8" rx="1.2"/>
<rect x="300.1" y="811.00" width="9.6" height="2.8" rx="1.2"/>
<rect x="312.7" y="811.00" width="9.6" height="2.8" rx="1.2"/>
<rect x="325.3" y="811.00" width="1.8" height="2.8" rx="1.2"/>
<rect x="366.0" y="830.10" width="9.6" height="2.8" rx="1.2"/>
<rect x="378.6" y="830.10" width="9.6" height="2.8" rx="1.2"/>
<rect x="391.2" y="830.10" width="9.6" height="2.8" rx="1.2"/>
<rect x="403.8" y="830.10" width="9.6" height="2.8" rx="1.2"/>
<rect x="416.4" y="830.10" width="9.6" height="2.8" rx="1.2"/>
<rect x="429.0" y="830.10" width="9.6" height="2.8" rx="1.2"/>
<rect x="441.6" y="830.10" width="9.6" height="2.8" rx="1.2"/>
<rect x="454.2" y="830.10" width="9.6" height="2.8" rx="1.2"/>
<rect x="466.8" y="830.10" width="9.6" height="2.8" rx="1.2"/>
<rect x="479.4" y="830.10" width="9.6" height="2.8" rx="1.2"/>
<rect x="492.0" y="830.10" width="9.6" height="2.8" rx="1.2"/>
<rect x="504.6" y="830.10" width="9.6" height="2.8" rx="1.2"/>
<rect x="517.2" y="830.10" width="9.6" height="2.8" rx="1.2"/>
<rect x="529.8" y="830.10" width="9.6" height="2.8" rx="1.2"/>
<rect x="542.4" y="830.10" width="9.6" height="2.8" rx="1.2"/>
<rect x="555.0" y="830.10" width="2.0" height="2.8" rx="1.2"/>
<rect x="144.2" y="841.30" width="68.8" height="4.20"/>
<rect x="227.3" y="820.60" width="68.7" height="4.20"/>
<rect x="379.5" y="816.35" width="68.9" height="4.30"/>
<rect x="462.3" y="844.95" width="69.0" height="4.30"/>
<circle cx="178.5" cy="690.6" r="1.3"/>
<circle cx="178.5" cy="700.3" r="1.3"/>
<circle cx="178.5" cy="718.0" r="1.3"/>
<circle cx="178.5" cy="726.5" r="1.3"/>
<circle cx="174.8" cy="735.2" r="1.3"/>
<circle cx="178.5" cy="738.5" r="1.3"/>
<circle cx="182.3" cy="736.8" r="1.3"/>
<circle cx="172.8" cy="749.3" r="1.3"/>
<circle cx="176.6" cy="750.0" r="1.3"/>
<circle cx="180.5" cy="752.7" r="1.3"/>
<circle cx="182.3" cy="752.0" r="1.3"/>
<circle cx="186.3" cy="749.8" r="1.3"/>
<circle cx="176.6" cy="756.3" r="1.3"/>
<circle cx="174.8" cy="762.7" r="1.3"/>
<circle cx="178.5" cy="763.5" r="1.3"/>
<circle cx="182.3" cy="761.5" r="1.3"/>
<circle cx="171.0" cy="773.5" r="1.3"/>
<circle cx="176.6" cy="772.4" r="1.3"/>
<circle cx="180.5" cy="771.8" r="1.3"/>
<circle cx="186.3" cy="773.5" r="1.3"/>
<circle cx="174.8" cy="775.9" r="1.3"/>
<circle cx="178.5" cy="776.7" r="1.3"/>
<circle cx="182.3" cy="775.7" r="1.3"/>
<circle cx="176.6" cy="788.3" r="1.3"/>
<circle cx="178.5" cy="787.2" r="1.3"/>
<circle cx="180.5" cy="791.8" r="1.3"/>
<circle cx="174.8" cy="796.7" r="1.3"/>
<circle cx="182.3" cy="797.5" r="1.3"/>
<circle cx="178.5" cy="799.5" r="1.3"/>
<circle cx="176.6" cy="801.6" r="1.3"/>
<circle cx="180.5" cy="804.5" r="1.3"/>
<circle cx="178.5" cy="813.7" r="1.3"/>
<circle cx="178.5" cy="819.6" r="1.3"/>
<circle cx="180.5" cy="820.7" r="1.3"/>
<circle cx="176.6" cy="823.9" r="1.3"/>
<circle cx="182.3" cy="825.0" r="1.3"/>
<circle cx="174.8" cy="826.4" r="1.3"/>
<circle cx="178.5" cy="828.6" r="1.3"/>
<circle cx="174.8" cy="832.9" r="1.3"/>
<circle cx="178.5" cy="834.2" r="1.3"/>
<circle cx="182.3" cy="834.2" r="1.3"/>
<circle cx="176.6" cy="836.1" r="1.3"/>
<circle cx="180.5" cy="839.8" r="1.3"/>
<circle cx="172.8" cy="841.8" r="1.3"/>
<circle cx="184.5" cy="841.8" r="1.3"/>
<circle cx="180.5" cy="845.0" r="1.3"/>
<circle cx="172.8" cy="848.2" r="1.3"/>
<circle cx="178.5" cy="848.2" r="1.3"/>
<circle cx="174.8" cy="850.9" r="1.3"/>
<circle cx="178.5" cy="853.8" r="1.3"/>
<circle cx="182.3" cy="853.8" r="1.3"/>
<circle cx="163.5" cy="856.8" r="1.3"/>
<circle cx="193.6" cy="856.8" r="1.3"/>
<circle cx="176.6" cy="902.2" r="1.3"/>
<circle cx="180.5" cy="902.2" r="1.3"/>
<circle cx="178.5" cy="922.8" r="1.3"/>
<circle cx="167.2" cy="860.5" r="1.3"/>
<circle cx="170.9" cy="860.5" r="1.3"/>
<circle cx="174.7" cy="860.5" r="1.3"/>
<circle cx="178.5" cy="860.5" r="1.3"/>
<circle cx="182.3" cy="860.5" r="1.3"/>
<circle cx="186.1" cy="860.5" r="1.3"/>
<circle cx="189.8" cy="860.5" r="1.3"/>
<circle cx="169.1" cy="864.4" r="1.3"/>
<circle cx="172.8" cy="864.4" r="1.3"/>
<circle cx="176.6" cy="864.4" r="1.3"/>
<circle cx="180.4" cy="864.4" r="1.3"/>
<circle cx="184.2" cy="864.4" r="1.3"/>
<circle cx="187.9" cy="864.4" r="1.3"/>
<circle cx="170.9" cy="869.2" r="1.3"/>
<circle cx="174.7" cy="869.2" r="1.3"/>
<circle cx="178.5" cy="869.2" r="1.3"/>
<circle cx="182.3" cy="869.2" r="1.3"/>
<circle cx="186.1" cy="869.2" r="1.3"/>
<circle cx="167.2" cy="874.7" r="1.3"/>
<circle cx="170.9" cy="874.7" r="1.3"/>
<circle cx="174.7" cy="874.7" r="1.3"/>
<circle cx="178.5" cy="874.7" r="1.3"/>
<circle cx="182.3" cy="874.7" r="1.3"/>
<circle cx="186.1" cy="874.7" r="1.3"/>
<circle cx="189.8" cy="874.7" r="1.3"/>
<circle cx="169.1" cy="881.3" r="1.3"/>
<circle cx="172.8" cy="881.3" r="1.3"/>
<circle cx="176.6" cy="881.3" r="1.3"/>
<circle cx="180.4" cy="881.3" r="1.3"/>
<circle cx="184.2" cy="881.3" r="1.3"/>
<circle cx="187.9" cy="881.3" r="1.3"/>
<circle cx="172.8" cy="890.0" r="1.3"/>
<circle cx="176.6" cy="890.0" r="1.3"/>
<circle cx="180.4" cy="890.0" r="1.3"/>
<circle cx="184.2" cy="890.0" r="1.3"/>
<circle cx="254.0" cy="688.1" r="1.3"/>
<circle cx="257.7" cy="689.2" r="1.3"/>
<circle cx="261.6" cy="690.8" r="1.3"/>
<circle cx="265.4" cy="689.2" r="1.3"/>
<circle cx="269.2" cy="687.4" r="1.3"/>
<circle cx="244.5" cy="697.5" r="1.3"/>
<circle cx="248.5" cy="698.2" r="1.3"/>
<circle cx="252.3" cy="698.9" r="1.3"/>
<circle cx="256.0" cy="700.2" r="1.3"/>
<circle cx="259.7" cy="700.5" r="1.3"/>
<circle cx="263.6" cy="700.5" r="1.3"/>
<circle cx="267.4" cy="700.2" r="1.3"/>
<circle cx="271.2" cy="698.9" r="1.3"/>
<circle cx="274.8" cy="697.8" r="1.3"/>
<circle cx="278.9" cy="696.8" r="1.3"/>
<circle cx="261.6" cy="704.9" r="1.3"/>
<circle cx="257.7" cy="710.3" r="1.3"/>
<circle cx="265.4" cy="710.3" r="1.3"/>
<circle cx="261.6" cy="713.0" r="1.3"/>
<circle cx="256.0" cy="718.4" r="1.3"/>
<circle cx="259.7" cy="718.4" r="1.3"/>
<circle cx="267.4" cy="718.4" r="1.3"/>
<circle cx="257.7" cy="722.8" r="1.3"/>
<circle cx="263.6" cy="721.1" r="1.3"/>
<circle cx="265.4" cy="722.8" r="1.3"/>
<circle cx="261.6" cy="726.0" r="1.3"/>
<circle cx="259.7" cy="730.0" r="1.3"/>
<circle cx="265.4" cy="730.5" r="1.3"/>
<circle cx="254.0" cy="732.8" r="1.3"/>
<circle cx="256.9" cy="735.2" r="1.3"/>
<circle cx="263.6" cy="732.5" r="1.3"/>
<circle cx="267.4" cy="731.8" r="1.3"/>
<circle cx="259.7" cy="737.6" r="1.3"/>
<circle cx="263.6" cy="739.0" r="1.3"/>
<circle cx="267.4" cy="736.8" r="1.3"/>
<circle cx="258.0" cy="740.6" r="1.3"/>
<circle cx="261.6" cy="743.3" r="1.3"/>
<circle cx="265.4" cy="742.6" r="1.3"/>
<circle cx="256.0" cy="744.6" r="1.3"/>
<circle cx="259.7" cy="745.7" r="1.3"/>
<circle cx="269.2" cy="745.3" r="1.3"/>
<circle cx="265.4" cy="747.3" r="1.3"/>
<circle cx="271.2" cy="748.0" r="1.3"/>
<circle cx="252.3" cy="749.8" r="1.3"/>
<circle cx="255.9" cy="750.8" r="1.3"/>
<circle cx="259.7" cy="751.8" r="1.3"/>
<circle cx="263.6" cy="750.8" r="1.3"/>
<circle cx="267.4" cy="750.5" r="1.3"/>
<circle cx="271.0" cy="748.5" r="1.3"/>
<circle cx="237.0" cy="753.7" r="1.3"/>
<circle cx="240.9" cy="754.9" r="1.3"/>
<circle cx="244.7" cy="755.1" r="1.3"/>
<circle cx="248.3" cy="756.1" r="1.3"/>
<circle cx="254.3" cy="756.7" r="1.3"/>
<circle cx="257.9" cy="757.1" r="1.3"/>
<circle cx="261.7" cy="757.4" r="1.3"/>
<circle cx="265.4" cy="757.1" r="1.3"/>
<circle cx="269.1" cy="756.4" r="1.3"/>
<circle cx="273.0" cy="755.7" r="1.3"/>
<circle cx="277.0" cy="754.9" r="1.3"/>
<circle cx="280.6" cy="753.7" r="1.3"/>
<circle cx="284.4" cy="753.4" r="1.3"/>
<circle cx="250.3" cy="759.0" r="1.3"/>
<circle cx="255.9" cy="759.8" r="1.3"/>
<circle cx="259.7" cy="761.3" r="1.3"/>
<circle cx="263.6" cy="760.0" r="1.3"/>
<circle cx="267.4" cy="759.8" r="1.3"/>
<circle cx="271.0" cy="757.9" r="1.3"/>
<circle cx="248.3" cy="762.3" r="1.3"/>
<circle cx="252.3" cy="762.3" r="1.3"/>
<circle cx="255.9" cy="764.0" r="1.3"/>
<circle cx="259.7" cy="765.6" r="1.3"/>
<circle cx="263.6" cy="766.0" r="1.3"/>
<circle cx="269.1" cy="765.3" r="1.3"/>
<circle cx="273.0" cy="763.6" r="1.3"/>
<circle cx="277.0" cy="762.0" r="1.3"/>
<circle cx="244.7" cy="767.0" r="1.3"/>
<circle cx="248.3" cy="767.8" r="1.3"/>
<circle cx="252.3" cy="769.0" r="1.3"/>
<circle cx="255.9" cy="769.5" r="1.3"/>
<circle cx="259.7" cy="770.2" r="1.3"/>
<circle cx="263.6" cy="769.9" r="1.3"/>
<circle cx="267.4" cy="769.0" r="1.3"/>
<circle cx="271.0" cy="768.2" r="1.3"/>
<circle cx="275.0" cy="767.5" r="1.3"/>
<circle cx="278.6" cy="766.6" r="1.3"/>
<circle cx="250.3" cy="772.9" r="1.3"/>
<circle cx="254.3" cy="773.9" r="1.3"/>
<circle cx="257.9" cy="775.8" r="1.3"/>
<circle cx="261.7" cy="776.4" r="1.3"/>
<circle cx="265.4" cy="775.8" r="1.3"/>
<circle cx="269.1" cy="773.5" r="1.3"/>
<circle cx="273.0" cy="772.7" r="1.3"/>
<circle cx="244.7" cy="777.4" r="1.3"/>
<circle cx="248.3" cy="778.4" r="1.3"/>
<circle cx="252.3" cy="779.1" r="1.3"/>
<circle cx="257.9" cy="779.8" r="1.3"/>
<circle cx="261.7" cy="780.8" r="1.3"/>
<circle cx="265.4" cy="782.8" r="1.3"/>
<circle cx="269.1" cy="781.6" r="1.3"/>
<circle cx="271.0" cy="779.1" r="1.3"/>
<circle cx="275.0" cy="778.8" r="1.3"/>
<circle cx="278.6" cy="777.4" r="1.3"/>
<circle cx="250.3" cy="781.8" r="1.3"/>
<circle cx="254.3" cy="782.1" r="1.3"/>
<circle cx="257.9" cy="784.7" r="1.3"/>
<circle cx="261.7" cy="785.3" r="1.3"/>
<circle cx="248.3" cy="785.7" r="1.3"/>
<circle cx="252.3" cy="787.0" r="1.3"/>
<circle cx="255.9" cy="788.3" r="1.3"/>
<circle cx="261.7" cy="788.7" r="1.3"/>
<circle cx="267.4" cy="788.5" r="1.3"/>
<circle cx="271.0" cy="788.5" r="1.3"/>
<circle cx="275.0" cy="786.0" r="1.3"/>
<circle cx="248.3" cy="785.8" r="1.3"/>
<circle cx="252.3" cy="786.8" r="1.3"/>
<circle cx="255.9" cy="788.8" r="1.3"/>
<circle cx="261.7" cy="789.1" r="1.3"/>
<circle cx="267.4" cy="789.0" r="1.3"/>
<circle cx="271.0" cy="788.5" r="1.3"/>
<circle cx="275.0" cy="786.5" r="1.3"/>
<circle cx="250.3" cy="790.7" r="1.3"/>
<circle cx="254.3" cy="791.7" r="1.3"/>
<circle cx="257.9" cy="792.1" r="1.3"/>
<circle cx="261.7" cy="793.9" r="1.3"/>
<circle cx="265.4" cy="791.9" r="1.3"/>
<circle cx="269.1" cy="791.1" r="1.3"/>
<circle cx="273.0" cy="790.4" r="1.3"/>
<circle cx="246.7" cy="797.6" r="1.3"/>
<circle cx="250.3" cy="798.0" r="1.3"/>
<circle cx="252.3" cy="799.0" r="1.3"/>
<circle cx="255.9" cy="800.6" r="1.3"/>
<circle cx="257.9" cy="799.3" r="1.3"/>
<circle cx="259.7" cy="802.6" r="1.3"/>
<circle cx="263.6" cy="799.3" r="1.3"/>
<circle cx="267.4" cy="798.8" r="1.3"/>
<circle cx="271.0" cy="798.0" r="1.3"/>
<circle cx="275.0" cy="796.7" r="1.3"/>
<circle cx="273.0" cy="800.6" r="1.3"/>
<circle cx="252.3" cy="804.0" r="1.3"/>
<circle cx="265.4" cy="803.3" r="1.3"/>
<circle cx="267.4" cy="805.2" r="1.3"/>
<circle cx="269.1" cy="802.3" r="1.3"/>
<circle cx="271.0" cy="803.8" r="1.3"/>
<circle cx="255.9" cy="807.0" r="1.3"/>
<circle cx="259.7" cy="808.0" r="1.3"/>
<circle cx="263.6" cy="807.0" r="1.3"/>
<circle cx="269.1" cy="809.0" r="1.3"/>
<circle cx="252.3" cy="811.7" r="1.3"/>
<circle cx="255.9" cy="811.2" r="1.3"/>
<circle cx="259.7" cy="811.9" r="1.3"/>
<circle cx="263.6" cy="811.2" r="1.3"/>
<circle cx="267.4" cy="811.7" r="1.3"/>
<circle cx="271.0" cy="812.5" r="1.3"/>
<circle cx="255.9" cy="815.1" r="1.3"/>
<circle cx="259.7" cy="815.8" r="1.3"/>
<circle cx="263.6" cy="815.8" r="1.3"/>
<circle cx="267.4" cy="814.6" r="1.3"/>
<circle cx="246.7" cy="817.6" r="1.3"/>
<circle cx="250.3" cy="818.6" r="1.3"/>
<circle cx="273.0" cy="817.6" r="1.3"/>
<circle cx="277.0" cy="816.8" r="1.3"/>
<circle cx="254.3" cy="819.6" r="1.3"/>
<circle cx="257.9" cy="820.4" r="1.3"/>
<circle cx="261.7" cy="820.4" r="1.3"/>
<circle cx="265.4" cy="820.0" r="1.3"/>
<circle cx="269.1" cy="819.6" r="1.3"/>
<circle cx="235.1" cy="825.8" r="1.3"/>
<circle cx="238.9" cy="825.8" r="1.3"/>
<circle cx="242.5" cy="825.8" r="1.3"/>
<circle cx="257.3" cy="825.8" r="1.3"/>
<circle cx="261.4" cy="825.8" r="1.3"/>
<circle cx="265.4" cy="825.8" r="1.3"/>
<circle cx="279.5" cy="825.8" r="1.3"/>
<circle cx="283.6" cy="825.8" r="1.3"/>
<circle cx="287.6" cy="825.8" r="1.3"/>
<circle cx="246.5" cy="827.8" r="1.3"/>
<circle cx="249.9" cy="828.5" r="1.3"/>
<circle cx="253.9" cy="829.1" r="1.3"/>
<circle cx="259.7" cy="829.5" r="1.3"/>
<circle cx="264.0" cy="829.5" r="1.3"/>
<circle cx="270.1" cy="828.7" r="1.3"/>
<circle cx="273.7" cy="828.5" r="1.3"/>
<circle cx="276.8" cy="827.8" r="1.3"/>
<circle cx="248.6" cy="831.8" r="1.3"/>
<circle cx="252.6" cy="831.2" r="1.3"/>
<circle cx="256.0" cy="832.5" r="1.3"/>
<circle cx="260.0" cy="833.8" r="1.3"/>
<circle cx="264.0" cy="833.8" r="1.3"/>
<circle cx="268.1" cy="832.7" r="1.3"/>
<circle cx="271.5" cy="831.2" r="1.3"/>
<circle cx="275.5" cy="831.8" r="1.3"/>
<rect x="234.4" y="834.80" width="12.1" height="2.20"/>
<rect x="276.8" y="834.80" width="12.2" height="2.20"/>
<rect x="246.5" y="838.10" width="29.7" height="2.20"/>
<circle cx="246.5" cy="841.3" r="1.3"/>
<circle cx="250.6" cy="841.3" r="1.3"/>
<circle cx="272.1" cy="841.3" r="1.3"/>
<circle cx="276.2" cy="841.3" r="1.3"/>
<circle cx="255.8" cy="843.3" r="1.3"/>
<circle cx="259.6" cy="843.3" r="1.3"/>
<circle cx="263.4" cy="843.3" r="1.3"/>
<circle cx="267.2" cy="843.3" r="1.3"/>
<circle cx="235.8" cy="845.7" r="1.3"/>
<circle cx="239.6" cy="845.7" r="1.3"/>
<circle cx="243.4" cy="845.7" r="1.3"/>
<circle cx="247.2" cy="845.7" r="1.3"/>
<circle cx="275.9" cy="845.7" r="1.3"/>
<circle cx="279.7" cy="845.7" r="1.3"/>
<circle cx="283.5" cy="845.7" r="1.3"/>
<circle cx="287.3" cy="845.7" r="1.3"/>
<rect x="249.2" y="846.90" width="24.3" height="2.20"/>
<circle cx="250.0" cy="850.7" r="1.3"/>
<circle cx="253.8" cy="850.7" r="1.3"/>
<circle cx="257.7" cy="850.7" r="1.3"/>
<circle cx="261.5" cy="850.7" r="1.3"/>
<circle cx="265.3" cy="850.7" r="1.3"/>
<circle cx="269.2" cy="850.7" r="1.3"/>
<circle cx="273.0" cy="850.7" r="1.3"/>
<circle cx="257.7" cy="853.8" r="1.3"/>
<circle cx="261.5" cy="853.8" r="1.3"/>
<circle cx="265.3" cy="853.8" r="1.3"/>
<rect x="234.4" y="855.60" width="14.2" height="2.20"/>
<rect x="276.8" y="855.60" width="11.5" height="2.20"/>
<circle cx="259.6" cy="856.7" r="1.3"/>
<circle cx="263.4" cy="856.7" r="1.3"/>
<rect x="249.2" y="859.00" width="27.0" height="2.20"/>
<circle cx="240.5" cy="864.4" r="1.3"/>
<circle cx="244.4" cy="864.4" r="1.3"/>
<circle cx="248.3" cy="864.4" r="1.3"/>
<circle cx="252.3" cy="864.4" r="1.3"/>
<circle cx="256.2" cy="864.4" r="1.3"/>
<circle cx="260.1" cy="864.4" r="1.3"/>
<circle cx="264.0" cy="864.4" r="1.3"/>
<circle cx="267.9" cy="864.4" r="1.3"/>
<circle cx="271.8" cy="864.4" r="1.3"/>
<circle cx="275.8" cy="864.4" r="1.3"/>
<circle cx="279.7" cy="864.4" r="1.3"/>
<circle cx="283.6" cy="864.4" r="1.3"/>
<circle cx="246.4" cy="869.1" r="1.3"/>
<circle cx="250.2" cy="869.1" r="1.3"/>
<circle cx="253.9" cy="869.1" r="1.3"/>
<circle cx="257.7" cy="869.1" r="1.3"/>
<circle cx="261.5" cy="869.1" r="1.3"/>
<circle cx="265.3" cy="869.1" r="1.3"/>
<circle cx="269.1" cy="869.1" r="1.3"/>
<circle cx="272.8" cy="869.1" r="1.3"/>
<circle cx="276.6" cy="869.1" r="1.3"/>
<circle cx="241.8" cy="874.5" r="1.3"/>
<circle cx="245.4" cy="874.5" r="1.3"/>
<circle cx="249.0" cy="874.5" r="1.3"/>
<circle cx="252.7" cy="874.5" r="1.3"/>
<circle cx="256.3" cy="874.5" r="1.3"/>
<circle cx="259.9" cy="874.5" r="1.3"/>
<circle cx="263.5" cy="874.5" r="1.3"/>
<circle cx="267.1" cy="874.5" r="1.3"/>
<circle cx="270.7" cy="874.5" r="1.3"/>
<circle cx="274.4" cy="874.5" r="1.3"/>
<circle cx="278.0" cy="874.5" r="1.3"/>
<circle cx="281.6" cy="874.5" r="1.3"/>
<circle cx="252.1" cy="881.2" r="1.3"/>
<circle cx="255.8" cy="881.2" r="1.3"/>
<circle cx="259.6" cy="881.2" r="1.3"/>
<circle cx="263.4" cy="881.2" r="1.3"/>
<circle cx="267.2" cy="881.2" r="1.3"/>
<circle cx="270.9" cy="881.2" r="1.3"/>
<circle cx="246.4" cy="890.1" r="1.3"/>
<circle cx="250.2" cy="890.1" r="1.3"/>
<circle cx="253.9" cy="890.1" r="1.3"/>
<circle cx="257.7" cy="890.1" r="1.3"/>
<circle cx="261.5" cy="890.1" r="1.3"/>
<circle cx="265.3" cy="890.1" r="1.3"/>
<circle cx="269.1" cy="890.1" r="1.3"/>
<circle cx="272.8" cy="890.1" r="1.3"/>
<circle cx="276.6" cy="890.1" r="1.3"/>
<circle cx="259.6" cy="902.0" r="1.3"/>
<circle cx="263.4" cy="902.0" r="1.3"/>
<circle cx="259.6" cy="922.8" r="1.3"/>
<circle cx="263.4" cy="922.8" r="1.3"/>
<circle cx="413.8" cy="729.7" r="1.3"/>
<circle cx="413.8" cy="755.3" r="1.3"/>
<circle cx="411.7" cy="766.9" r="1.3"/>
<circle cx="415.7" cy="765.8" r="1.3"/>
<circle cx="411.7" cy="772.5" r="1.3"/>
<circle cx="415.7" cy="773.9" r="1.3"/>
<circle cx="410.0" cy="781.4" r="1.3"/>
<circle cx="413.8" cy="783.0" r="1.3"/>
<circle cx="417.5" cy="781.9" r="1.3"/>
<circle cx="406.2" cy="786.6" r="1.3"/>
<circle cx="410.0" cy="787.9" r="1.3"/>
<circle cx="413.8" cy="788.7" r="1.3"/>
<circle cx="417.5" cy="787.3" r="1.3"/>
<circle cx="421.4" cy="785.9" r="1.3"/>
<circle cx="408.2" cy="793.8" r="1.3"/>
<circle cx="411.9" cy="795.2" r="1.3"/>
<circle cx="415.7" cy="794.1" r="1.3"/>
<circle cx="419.5" cy="792.8" r="1.3"/>
<circle cx="406.2" cy="796.7" r="1.3"/>
<circle cx="410.0" cy="797.8" r="1.3"/>
<circle cx="413.8" cy="799.5" r="1.3"/>
<circle cx="417.5" cy="797.3" r="1.3"/>
<circle cx="421.4" cy="796.5" r="1.3"/>
<circle cx="402.6" cy="803.4" r="1.3"/>
<circle cx="406.2" cy="804.5" r="1.3"/>
<circle cx="410.0" cy="805.6" r="1.3"/>
<circle cx="415.7" cy="804.8" r="1.3"/>
<circle cx="419.5" cy="804.1" r="1.3"/>
<circle cx="423.2" cy="802.4" r="1.3"/>
<circle cx="404.4" cy="807.8" r="1.3"/>
<circle cx="408.2" cy="807.8" r="1.3"/>
<circle cx="411.9" cy="808.8" r="1.3"/>
<circle cx="415.7" cy="810.6" r="1.3"/>
<circle cx="419.5" cy="808.4" r="1.3"/>
<circle cx="423.2" cy="807.8" r="1.3"/>
<circle cx="406.2" cy="812.4" r="1.3"/>
<circle cx="410.0" cy="814.5" r="1.3"/>
<circle cx="417.5" cy="815.1" r="1.3"/>
<circle cx="421.4" cy="814.5" r="1.3"/>
<circle cx="413.8" cy="816.3" r="1.3"/>
<circle cx="417.5" cy="816.8" r="1.3"/>
<circle cx="400.6" cy="821.5" r="1.3"/>
<circle cx="404.4" cy="821.5" r="1.3"/>
<circle cx="408.2" cy="823.5" r="1.3"/>
<circle cx="411.9" cy="825.0" r="1.3"/>
<circle cx="415.7" cy="824.6" r="1.3"/>
<circle cx="419.5" cy="823.7" r="1.3"/>
<circle cx="423.8" cy="821.5" r="1.3"/>
<circle cx="427.0" cy="821.5" r="1.3"/>
<circle cx="406.2" cy="828.2" r="1.3"/>
<circle cx="410.0" cy="830.0" r="1.3"/>
<circle cx="417.5" cy="828.2" r="1.3"/>
<circle cx="421.4" cy="828.0" r="1.3"/>
<circle cx="408.2" cy="835.8" r="1.3"/>
<circle cx="415.7" cy="834.7" r="1.3"/>
<circle cx="411.9" cy="837.9" r="1.3"/>
<circle cx="419.5" cy="837.5" r="1.3"/>
<circle cx="415.7" cy="840.0" r="1.3"/>
<circle cx="400.6" cy="842.5" r="1.3"/>
<circle cx="404.4" cy="844.2" r="1.3"/>
<circle cx="408.2" cy="844.4" r="1.3"/>
<circle cx="411.9" cy="844.7" r="1.3"/>
<circle cx="415.7" cy="844.4" r="1.3"/>
<circle cx="419.5" cy="844.0" r="1.3"/>
<circle cx="423.2" cy="843.3" r="1.3"/>
<circle cx="427.0" cy="841.1" r="1.3"/>
<circle cx="410.0" cy="848.5" r="1.3"/>
<circle cx="417.5" cy="847.6" r="1.3"/>
<circle cx="413.8" cy="851.2" r="1.3"/>
<circle cx="410.0" cy="853.5" r="1.3"/>
<circle cx="413.8" cy="856.9" r="1.3"/>
<circle cx="417.5" cy="856.2" r="1.3"/>
<circle cx="408.2" cy="861.2" r="1.3"/>
<circle cx="410.0" cy="863.6" r="1.3"/>
<circle cx="413.8" cy="861.4" r="1.3"/>
<circle cx="417.5" cy="861.4" r="1.3"/>
<circle cx="413.8" cy="866.6" r="1.3"/>
<circle cx="417.5" cy="865.9" r="1.3"/>
<circle cx="413.8" cy="871.1" r="1.3"/>
<circle cx="411.9" cy="878.1" r="1.3"/>
<circle cx="415.7" cy="877.3" r="1.3"/>
<circle cx="496.7" cy="736.1" r="1.3"/>
<circle cx="496.7" cy="750.7" r="1.3"/>
<circle cx="496.7" cy="756.7" r="1.3"/>
<circle cx="491.0" cy="760.6" r="1.3"/>
<circle cx="495.0" cy="762.9" r="1.3"/>
<circle cx="498.8" cy="763.5" r="1.3"/>
<circle cx="502.6" cy="761.4" r="1.3"/>
<circle cx="498.8" cy="769.9" r="1.3"/>
<circle cx="495.0" cy="772.3" r="1.3"/>
<circle cx="493.0" cy="775.2" r="1.3"/>
<circle cx="500.6" cy="774.6" r="1.3"/>
<circle cx="496.7" cy="776.9" r="1.3"/>
<circle cx="498.8" cy="779.3" r="1.3"/>
<circle cx="495.0" cy="781.6" r="1.3"/>
<circle cx="493.0" cy="786.3" r="1.3"/>
<circle cx="496.7" cy="785.7" r="1.3"/>
<circle cx="500.6" cy="786.3" r="1.3"/>
<circle cx="496.7" cy="789.8" r="1.3"/>
<circle cx="487.2" cy="792.5" r="1.3"/>
<circle cx="491.0" cy="793.9" r="1.3"/>
<circle cx="493.0" cy="796.2" r="1.3"/>
<circle cx="496.7" cy="794.4" r="1.3"/>
<circle cx="500.6" cy="793.9" r="1.3"/>
<circle cx="504.4" cy="791.3" r="1.3"/>
<circle cx="495.0" cy="799.7" r="1.3"/>
<circle cx="496.7" cy="798.3" r="1.3"/>
<circle cx="500.6" cy="797.9" r="1.3"/>
<circle cx="498.8" cy="802.0" r="1.3"/>
<circle cx="502.6" cy="803.4" r="1.3"/>
<circle cx="489.2" cy="805.8" r="1.3"/>
<circle cx="493.0" cy="806.7" r="1.3"/>
<circle cx="498.8" cy="806.2" r="1.3"/>
<circle cx="479.6" cy="807.6" r="1.3"/>
<circle cx="483.7" cy="807.8" r="1.3"/>
<circle cx="487.2" cy="808.5" r="1.3"/>
<circle cx="491.0" cy="809.3" r="1.3"/>
<circle cx="495.0" cy="810.4" r="1.3"/>
<circle cx="498.8" cy="811.1" r="1.3"/>
<circle cx="502.6" cy="810.2" r="1.3"/>
<circle cx="506.4" cy="808.5" r="1.3"/>
<circle cx="510.2" cy="808.1" r="1.3"/>
<circle cx="514.0" cy="807.6" r="1.3"/>
<circle cx="481.9" cy="811.6" r="1.3"/>
<circle cx="485.8" cy="812.3" r="1.3"/>
<circle cx="489.5" cy="813.1" r="1.3"/>
<circle cx="493.0" cy="813.9" r="1.3"/>
<circle cx="496.7" cy="814.3" r="1.3"/>
<circle cx="500.6" cy="813.9" r="1.3"/>
<circle cx="504.4" cy="813.1" r="1.3"/>
<circle cx="508.2" cy="812.3" r="1.3"/>
<circle cx="512.0" cy="811.6" r="1.3"/>
<circle cx="475.3" cy="817.0" r="1.3"/>
<circle cx="479.2" cy="817.4" r="1.3"/>
<circle cx="483.1" cy="817.3" r="1.3"/>
<circle cx="487.0" cy="816.6" r="1.3"/>
<circle cx="490.9" cy="816.9" r="1.3"/>
<circle cx="494.8" cy="817.1" r="1.3"/>
<circle cx="498.6" cy="817.0" r="1.3"/>
<circle cx="502.5" cy="817.1" r="1.3"/>
<circle cx="506.4" cy="816.7" r="1.3"/>
<circle cx="510.3" cy="817.3" r="1.3"/>
<circle cx="514.2" cy="816.8" r="1.3"/>
<circle cx="518.1" cy="816.9" r="1.3"/>
<circle cx="469.2" cy="820.9" r="1.3"/>
<circle cx="473.1" cy="820.4" r="1.3"/>
<circle cx="477.1" cy="821.0" r="1.3"/>
<circle cx="481.0" cy="820.9" r="1.3"/>
<circle cx="484.9" cy="820.2" r="1.3"/>
<circle cx="488.8" cy="820.4" r="1.3"/>
<circle cx="492.8" cy="820.9" r="1.3"/>
<circle cx="496.7" cy="820.3" r="1.3"/>
<circle cx="500.6" cy="820.6" r="1.3"/>
<circle cx="504.6" cy="820.5" r="1.3"/>
<circle cx="508.5" cy="820.4" r="1.3"/>
<circle cx="512.4" cy="820.4" r="1.3"/>
<circle cx="516.3" cy="820.5" r="1.3"/>
<circle cx="520.3" cy="820.3" r="1.3"/>
<circle cx="524.2" cy="820.8" r="1.3"/>
<circle cx="472.9" cy="823.0" r="1.3"/>
<circle cx="476.6" cy="823.0" r="1.3"/>
<circle cx="480.2" cy="823.2" r="1.3"/>
<circle cx="483.9" cy="823.8" r="1.3"/>
<circle cx="487.5" cy="823.2" r="1.3"/>
<circle cx="491.2" cy="822.9" r="1.3"/>
<circle cx="494.9" cy="823.6" r="1.3"/>
<circle cx="498.5" cy="823.0" r="1.3"/>
<circle cx="502.2" cy="823.3" r="1.3"/>
<circle cx="505.9" cy="823.5" r="1.3"/>
<circle cx="509.5" cy="823.0" r="1.3"/>
<circle cx="513.2" cy="822.9" r="1.3"/>
<circle cx="516.8" cy="823.6" r="1.3"/>
<circle cx="520.5" cy="823.7" r="1.3"/>
<circle cx="478.2" cy="826.1" r="1.3"/>
<circle cx="481.9" cy="826.5" r="1.3"/>
<circle cx="485.6" cy="827.0" r="1.3"/>
<circle cx="489.3" cy="826.8" r="1.3"/>
<circle cx="493.0" cy="826.9" r="1.3"/>
<circle cx="496.7" cy="826.6" r="1.3"/>
<circle cx="500.4" cy="826.5" r="1.3"/>
<circle cx="504.1" cy="826.6" r="1.3"/>
<circle cx="507.8" cy="826.7" r="1.3"/>
<circle cx="511.5" cy="826.6" r="1.3"/>
<circle cx="515.2" cy="826.1" r="1.3"/>
<circle cx="479.2" cy="830.0" r="1.3"/>
<circle cx="483.1" cy="829.8" r="1.3"/>
<circle cx="487.0" cy="830.0" r="1.3"/>
<circle cx="490.9" cy="829.5" r="1.3"/>
<circle cx="494.8" cy="829.3" r="1.3"/>
<circle cx="498.6" cy="829.3" r="1.3"/>
<circle cx="502.5" cy="829.9" r="1.3"/>
<circle cx="506.4" cy="829.1" r="1.3"/>
<circle cx="510.3" cy="829.8" r="1.3"/>
<circle cx="514.2" cy="829.6" r="1.3"/>
<circle cx="481.7" cy="831.9" r="1.3"/>
<circle cx="485.4" cy="831.8" r="1.3"/>
<circle cx="489.2" cy="831.8" r="1.3"/>
<circle cx="492.9" cy="832.4" r="1.3"/>
<circle cx="496.7" cy="832.4" r="1.3"/>
<circle cx="500.4" cy="831.7" r="1.3"/>
<circle cx="504.2" cy="832.3" r="1.3"/>
<circle cx="507.9" cy="831.9" r="1.3"/>
<circle cx="511.7" cy="831.5" r="1.3"/>
<circle cx="479.7" cy="835.1" r="1.3"/>
<circle cx="483.5" cy="834.7" r="1.3"/>
<circle cx="487.3" cy="834.6" r="1.3"/>
<circle cx="491.0" cy="835.1" r="1.3"/>
<circle cx="494.8" cy="835.0" r="1.3"/>
<circle cx="498.6" cy="835.3" r="1.3"/>
<circle cx="502.4" cy="834.9" r="1.3"/>
<circle cx="506.1" cy="835.2" r="1.3"/>
<circle cx="509.9" cy="835.3" r="1.3"/>
<circle cx="513.7" cy="835.1" r="1.3"/>
<circle cx="470.7" cy="837.7" r="1.3"/>
<circle cx="473.4" cy="838.1" r="1.3"/>
<circle cx="476.2" cy="837.8" r="1.3"/>
<circle cx="478.9" cy="838.0" r="1.3"/>
<circle cx="481.6" cy="838.4" r="1.3"/>
<circle cx="484.4" cy="838.3" r="1.3"/>
<circle cx="487.1" cy="837.5" r="1.3"/>
<circle cx="489.9" cy="837.7" r="1.3"/>
<circle cx="492.6" cy="837.6" r="1.3"/>
<circle cx="495.3" cy="838.2" r="1.3"/>
<circle cx="498.1" cy="837.7" r="1.3"/>
<circle cx="500.8" cy="837.9" r="1.3"/>
<circle cx="503.5" cy="838.0" r="1.3"/>
<circle cx="506.3" cy="838.4" r="1.3"/>
<circle cx="509.0" cy="838.4" r="1.3"/>
<circle cx="511.8" cy="838.3" r="1.3"/>
<circle cx="514.5" cy="837.9" r="1.3"/>
<circle cx="517.2" cy="837.9" r="1.3"/>
<circle cx="520.0" cy="837.7" r="1.3"/>
<circle cx="522.7" cy="837.9" r="1.3"/>
<circle cx="470.7" cy="841.5" r="1.3"/>
<circle cx="474.2" cy="840.7" r="1.3"/>
<circle cx="477.6" cy="841.6" r="1.3"/>
<circle cx="481.1" cy="841.5" r="1.3"/>
<circle cx="484.6" cy="841.3" r="1.3"/>
<circle cx="488.0" cy="841.4" r="1.3"/>
<circle cx="491.5" cy="841.1" r="1.3"/>
<circle cx="495.0" cy="841.1" r="1.3"/>
<circle cx="498.4" cy="840.9" r="1.3"/>
<circle cx="501.9" cy="841.6" r="1.3"/>
<circle cx="505.4" cy="841.0" r="1.3"/>
<circle cx="508.8" cy="841.0" r="1.3"/>
<circle cx="512.3" cy="840.8" r="1.3"/>
<circle cx="515.8" cy="841.6" r="1.3"/>
<circle cx="519.2" cy="840.9" r="1.3"/>
<circle cx="522.7" cy="841.0" r="1.3"/>
<circle cx="470.7" cy="844.0" r="1.3"/>
<circle cx="474.4" cy="844.0" r="1.3"/>
<circle cx="478.1" cy="843.6" r="1.3"/>
<circle cx="481.8" cy="843.2" r="1.3"/>
<circle cx="485.6" cy="843.5" r="1.3"/>
<circle cx="489.3" cy="843.5" r="1.3"/>
<circle cx="493.0" cy="843.2" r="1.3"/>
<circle cx="496.7" cy="843.7" r="1.3"/>
<circle cx="500.4" cy="843.1" r="1.3"/>
<circle cx="504.1" cy="843.7" r="1.3"/>
<circle cx="507.8" cy="843.3" r="1.3"/>
<circle cx="511.6" cy="843.1" r="1.3"/>
<circle cx="515.3" cy="843.4" r="1.3"/>
<circle cx="519.0" cy="843.5" r="1.3"/>
<circle cx="522.7" cy="844.1" r="1.3"/>
<circle cx="469.7" cy="850.0" r="1.3"/>
<circle cx="472.9" cy="849.6" r="1.3"/>
<circle cx="476.1" cy="849.6" r="1.3"/>
<circle cx="479.2" cy="850.1" r="1.3"/>
<circle cx="482.4" cy="849.9" r="1.3"/>
<circle cx="485.6" cy="849.8" r="1.3"/>
<circle cx="488.8" cy="850.3" r="1.3"/>
<circle cx="491.9" cy="849.9" r="1.3"/>
<circle cx="495.1" cy="850.3" r="1.3"/>
<circle cx="498.3" cy="850.0" r="1.3"/>
<circle cx="501.5" cy="850.0" r="1.3"/>
<circle cx="504.6" cy="850.2" r="1.3"/>
<circle cx="507.8" cy="850.3" r="1.3"/>
<circle cx="511.0" cy="850.1" r="1.3"/>
<circle cx="514.2" cy="850.2" r="1.3"/>
<circle cx="517.3" cy="850.3" r="1.3"/>
<circle cx="520.5" cy="849.9" r="1.3"/>
<circle cx="523.7" cy="850.4" r="1.3"/>
<circle cx="469.2" cy="854.0" r="1.3"/>
<circle cx="471.9" cy="853.8" r="1.3"/>
<circle cx="474.7" cy="854.5" r="1.3"/>
<circle cx="477.4" cy="853.8" r="1.3"/>
<circle cx="480.2" cy="854.4" r="1.3"/>
<circle cx="482.9" cy="853.8" r="1.3"/>
<circle cx="485.7" cy="854.1" r="1.3"/>
<circle cx="488.4" cy="854.3" r="1.3"/>
<circle cx="491.2" cy="854.1" r="1.3"/>
<circle cx="493.9" cy="854.6" r="1.3"/>
<circle cx="496.7" cy="854.0" r="1.3"/>
<circle cx="499.4" cy="853.7" r="1.3"/>
<circle cx="502.2" cy="853.6" r="1.3"/>
<circle cx="504.9" cy="854.2" r="1.3"/>
<circle cx="507.7" cy="854.0" r="1.3"/>
<circle cx="510.4" cy="854.3" r="1.3"/>
<circle cx="513.2" cy="854.1" r="1.3"/>
<circle cx="516.0" cy="854.0" r="1.3"/>
<circle cx="518.7" cy="854.2" r="1.3"/>
<circle cx="521.5" cy="853.9" r="1.3"/>
<circle cx="524.2" cy="854.3" r="1.3"/>
<circle cx="478.7" cy="858.5" r="1.3"/>
<circle cx="482.7" cy="858.5" r="1.3"/>
<circle cx="486.7" cy="857.7" r="1.3"/>
<circle cx="490.7" cy="857.8" r="1.3"/>
<circle cx="494.7" cy="858.1" r="1.3"/>
<circle cx="498.7" cy="857.6" r="1.3"/>
<circle cx="502.7" cy="858.1" r="1.3"/>
<circle cx="506.7" cy="857.8" r="1.3"/>
<circle cx="510.7" cy="857.9" r="1.3"/>
<circle cx="514.7" cy="857.9" r="1.3"/>
<circle cx="470.7" cy="862.6" r="1.3"/>
<circle cx="473.4" cy="862.2" r="1.3"/>
<circle cx="476.2" cy="861.8" r="1.3"/>
<circle cx="478.9" cy="862.3" r="1.3"/>
<circle cx="481.6" cy="862.4" r="1.3"/>
<circle cx="484.4" cy="862.2" r="1.3"/>
<circle cx="487.1" cy="862.5" r="1.3"/>
<circle cx="489.9" cy="861.9" r="1.3"/>
<circle cx="492.6" cy="862.6" r="1.3"/>
<circle cx="495.3" cy="862.3" r="1.3"/>
<circle cx="498.1" cy="862.3" r="1.3"/>
<circle cx="500.8" cy="862.2" r="1.3"/>
<circle cx="503.5" cy="862.4" r="1.3"/>
<circle cx="506.3" cy="862.0" r="1.3"/>
<circle cx="509.0" cy="862.3" r="1.3"/>
<circle cx="511.8" cy="861.9" r="1.3"/>
<circle cx="514.5" cy="861.8" r="1.3"/>
<circle cx="517.2" cy="862.2" r="1.3"/>
<circle cx="520.0" cy="861.8" r="1.3"/>
<circle cx="522.7" cy="861.8" r="1.3"/>
<circle cx="469.2" cy="867.2" r="1.3"/>
<circle cx="471.9" cy="866.6" r="1.3"/>
<circle cx="474.7" cy="867.5" r="1.3"/>
<circle cx="477.4" cy="867.4" r="1.3"/>
<circle cx="480.2" cy="867.1" r="1.3"/>
<circle cx="482.9" cy="867.4" r="1.3"/>
<circle cx="485.7" cy="867.3" r="1.3"/>
<circle cx="488.4" cy="867.3" r="1.3"/>
<circle cx="491.2" cy="866.8" r="1.3"/>
<circle cx="493.9" cy="866.7" r="1.3"/>
<circle cx="496.7" cy="866.7" r="1.3"/>
<circle cx="499.4" cy="867.2" r="1.3"/>
<circle cx="502.2" cy="867.3" r="1.3"/>
<circle cx="504.9" cy="867.2" r="1.3"/>
<circle cx="507.7" cy="867.1" r="1.3"/>
<circle cx="510.4" cy="867.3" r="1.3"/>
<circle cx="513.2" cy="866.6" r="1.3"/>
<circle cx="516.0" cy="867.1" r="1.3"/>
<circle cx="518.7" cy="867.4" r="1.3"/>
<circle cx="521.5" cy="866.8" r="1.3"/>
<circle cx="524.2" cy="867.5" r="1.3"/>
<circle cx="475.7" cy="871.1" r="1.3"/>
<circle cx="479.5" cy="871.3" r="1.3"/>
<circle cx="483.3" cy="870.5" r="1.3"/>
<circle cx="487.2" cy="870.7" r="1.3"/>
<circle cx="491.0" cy="871.0" r="1.3"/>
<circle cx="494.8" cy="870.8" r="1.3"/>
<circle cx="498.6" cy="871.2" r="1.3"/>
<circle cx="502.4" cy="870.7" r="1.3"/>
<circle cx="506.2" cy="870.6" r="1.3"/>
<circle cx="510.1" cy="871.0" r="1.3"/>
<circle cx="513.9" cy="871.1" r="1.3"/>
<circle cx="517.7" cy="870.8" r="1.3"/>
<circle cx="474.4" cy="875.6" r="1.3"/>
<circle cx="478.1" cy="876.0" r="1.3"/>
<circle cx="481.8" cy="876.3" r="1.3"/>
<circle cx="485.5" cy="876.3" r="1.3"/>
<circle cx="489.3" cy="876.0" r="1.3"/>
<circle cx="493.0" cy="875.5" r="1.3"/>
<circle cx="496.7" cy="876.1" r="1.3"/>
<circle cx="500.4" cy="876.0" r="1.3"/>
<circle cx="504.1" cy="876.4" r="1.3"/>
<circle cx="507.8" cy="876.1" r="1.3"/>
<circle cx="511.6" cy="875.8" r="1.3"/>
<circle cx="515.3" cy="876.1" r="1.3"/>
<circle cx="519.0" cy="875.8" r="1.3"/>
<circle cx="478.2" cy="880.4" r="1.3"/>
<circle cx="481.9" cy="880.4" r="1.3"/>
<circle cx="485.6" cy="879.6" r="1.3"/>
<circle cx="489.3" cy="880.4" r="1.3"/>
<circle cx="493.0" cy="880.4" r="1.3"/>
<circle cx="496.7" cy="880.4" r="1.3"/>
<circle cx="500.4" cy="880.3" r="1.3"/>
<circle cx="504.1" cy="880.2" r="1.3"/>
<circle cx="507.8" cy="879.6" r="1.3"/>
<circle cx="511.5" cy="880.1" r="1.3"/>
<circle cx="515.2" cy="879.5" r="1.3"/>
<circle cx="478.7" cy="885.2" r="1.3"/>
<circle cx="482.7" cy="884.4" r="1.3"/>
<circle cx="486.7" cy="885.2" r="1.3"/>
<circle cx="490.7" cy="884.9" r="1.3"/>
<circle cx="494.7" cy="885.0" r="1.3"/>
<circle cx="498.7" cy="885.0" r="1.3"/>
<circle cx="502.7" cy="884.8" r="1.3"/>
<circle cx="506.7" cy="884.8" r="1.3"/>
<circle cx="510.7" cy="884.4" r="1.3"/>
<circle cx="514.7" cy="885.1" r="1.3"/>
<circle cx="496.7" cy="888.8" r="1.3"/>
<circle cx="489.4" cy="893.2" r="1.3"/>
<circle cx="499.0" cy="894.8" r="1.3"/>
<circle cx="502.8" cy="893.5" r="1.3"/>
<circle cx="493.0" cy="896.2" r="1.3"/>
<circle cx="495.0" cy="900.0" r="1.3"/>
<circle cx="499.0" cy="900.9" r="1.3"/>
<circle cx="493.0" cy="902.6" r="1.3"/>
<circle cx="500.6" cy="904.0" r="1.3"/>
<circle cx="497.0" cy="905.3" r="1.3"/>
<circle cx="497.0" cy="909.4" r="1.3"/>
<circle cx="497.0" cy="937.9" r="1.3"/>
<rect x="121.20" y="1208.6" width="4.10" height="350.5"/>
<rect x="121.2" y="1554.95" width="431.3" height="4.10"/>
<rect x="123.2" y="1208.70" width="9.8" height="4.00"/>
<text x="118.3" y="1216.5" font-size="17" font-weight="bold" text-anchor="end" >1000</text>
<rect x="123.2" y="1295.10" width="9.8" height="4.00"/>
<text x="118.3" y="1302.9" font-size="17" font-weight="bold" text-anchor="end" >100</text>
<rect x="123.2" y="1381.50" width="9.8" height="4.00"/>
<text x="118.3" y="1389.3" font-size="17" font-weight="bold" text-anchor="end" >10</text>
<rect x="123.2" y="1467.90" width="9.8" height="4.00"/>
<text x="118.3" y="1475.7" font-size="17" font-weight="bold" text-anchor="end" >1</text>
<rect x="123.2" y="1554.30" width="9.8" height="4.00"/>
<text x="118.3" y="1562.1000000000001" font-size="17" font-weight="bold" text-anchor="end" >0.1</text>
<text x="105.4" y="1170" font-size="27.5" font-weight="normal" text-anchor="start" >(c)</text>
<text transform="translate(64.6,1490.1) rotate(-90)" font-size="22.2" font-weight="bold"><tspan>Anti-histone </tspan><tspan font-style="italic">(AU/ml)</tspan></text>
<text x="215.8" y="1213.3" font-size="20" font-weight="bold" text-anchor="middle" >p=0.2</text>
<text x="450.4" y="1213.3" font-size="20" font-weight="bold" text-anchor="middle" >p&lt;0.0001</text>
<text x="178.6" y="1591.0" font-size="21" font-weight="bold" text-anchor="middle" >Sudan</text>
<text x="261.7" y="1591.0" font-size="21" font-weight="bold" text-anchor="middle" >Sweden</text>
<text x="413.7" y="1591.0" font-size="21" font-weight="bold" text-anchor="middle" >Sudan</text>
<text x="496.6" y="1591.0" font-size="21" font-weight="bold" text-anchor="middle" >Sweden</text>
<text x="216" y="1621.0" font-size="20.5" font-weight="bold" text-anchor="middle" >Serum</text>
<text x="450.6" y="1621.0" font-size="20.5" font-weight="bold" text-anchor="middle" >IC</text>
<text x="-0.5" y="1647.3" font-size="20" font-weight="normal" text-anchor="start" >median (AU/ml)</text>
<text x="170" y="1647.3" font-size="20" font-weight="normal" text-anchor="middle" >5.0</text>
<text x="261.4" y="1647.3" font-size="20" font-weight="normal" text-anchor="middle" >6.0</text>
<text x="408.3" y="1647.3" font-size="20" font-weight="normal" text-anchor="middle" >4.0</text>
<text x="494" y="1647.3" font-size="20" font-weight="normal" text-anchor="middle" >1.9</text>
<rect x="136.6" y="1330.70" width="9.6" height="2.8" rx="1.2"/>
<rect x="149.2" y="1330.70" width="9.6" height="2.8" rx="1.2"/>
<rect x="161.8" y="1330.70" width="9.6" height="2.8" rx="1.2"/>
<rect x="174.4" y="1330.70" width="9.6" height="2.8" rx="1.2"/>
<rect x="187.0" y="1330.70" width="9.6" height="2.8" rx="1.2"/>
<rect x="199.6" y="1330.70" width="9.6" height="2.8" rx="1.2"/>
<rect x="212.2" y="1330.70" width="9.6" height="2.8" rx="1.2"/>
<rect x="224.8" y="1330.70" width="9.6" height="2.8" rx="1.2"/>
<rect x="237.4" y="1330.70" width="9.6" height="2.8" rx="1.2"/>
<rect x="250.0" y="1330.70" width="9.6" height="2.8" rx="1.2"/>
<rect x="262.6" y="1330.70" width="9.6" height="2.8" rx="1.2"/>
<rect x="275.2" y="1330.70" width="9.6" height="2.8" rx="1.2"/>
<rect x="287.8" y="1330.70" width="9.6" height="2.8" rx="1.2"/>
<rect x="300.4" y="1330.70" width="9.6" height="2.8" rx="1.2"/>
<rect x="313.0" y="1330.70" width="9.6" height="2.8" rx="1.2"/>
<rect x="325.6" y="1330.70" width="1.8" height="2.8" rx="1.2"/>
<rect x="365.6" y="1408.00" width="9.6" height="2.8" rx="1.2"/>
<rect x="378.2" y="1408.00" width="9.6" height="2.8" rx="1.2"/>
<rect x="390.8" y="1408.00" width="9.6" height="2.8" rx="1.2"/>
<rect x="403.4" y="1408.00" width="9.6" height="2.8" rx="1.2"/>
<rect x="416.0" y="1408.00" width="9.6" height="2.8" rx="1.2"/>
<rect x="428.6" y="1408.00" width="9.6" height="2.8" rx="1.2"/>
<rect x="441.2" y="1408.00" width="9.6" height="2.8" rx="1.2"/>
<rect x="453.8" y="1408.00" width="9.6" height="2.8" rx="1.2"/>
<rect x="466.4" y="1408.00" width="9.6" height="2.8" rx="1.2"/>
<rect x="479.0" y="1408.00" width="9.6" height="2.8" rx="1.2"/>
<rect x="491.6" y="1408.00" width="9.6" height="2.8" rx="1.2"/>
<rect x="504.2" y="1408.00" width="9.6" height="2.8" rx="1.2"/>
<rect x="516.8" y="1408.00" width="9.6" height="2.8" rx="1.2"/>
<rect x="529.4" y="1408.00" width="9.6" height="2.8" rx="1.2"/>
<rect x="542.0" y="1408.00" width="9.6" height="2.8" rx="1.2"/>
<rect x="554.6" y="1408.00" width="2.4" height="2.8" rx="1.2"/>
<rect x="144.2" y="1407.50" width="68.8" height="4.20"/>
<rect x="227.3" y="1400.90" width="68.7" height="4.20"/>
<rect x="379.5" y="1415.65" width="68.9" height="4.30"/>
<rect x="462.3" y="1443.25" width="69.0" height="4.30"/>
<circle cx="176.7" cy="1265.4" r="1.3"/>
<circle cx="180.7" cy="1268.7" r="1.3"/>
<circle cx="180.7" cy="1274.7" r="1.3"/>
<circle cx="176.7" cy="1277.6" r="1.3"/>
<circle cx="176.7" cy="1291.4" r="1.3"/>
<circle cx="180.7" cy="1292.5" r="1.3"/>
<circle cx="178.5" cy="1304.8" r="1.3"/>
<circle cx="176.7" cy="1308.1" r="1.3"/>
<circle cx="180.7" cy="1309.6" r="1.3"/>
<circle cx="178.5" cy="1320.5" r="1.3"/>
<circle cx="178.5" cy="1332.6" r="1.3"/>
<circle cx="176.6" cy="1340.0" r="1.3"/>
<circle cx="180.6" cy="1340.0" r="1.3"/>
<circle cx="174.9" cy="1350.8" r="1.3"/>
<circle cx="178.8" cy="1350.8" r="1.3"/>
<circle cx="182.5" cy="1347.9" r="1.3"/>
<circle cx="174.9" cy="1355.8" r="1.3"/>
<circle cx="178.8" cy="1359.7" r="1.3"/>
<circle cx="182.5" cy="1357.7" r="1.3"/>
<circle cx="176.6" cy="1363.7" r="1.3"/>
<circle cx="180.6" cy="1366.2" r="1.3"/>
<circle cx="180.6" cy="1371.2" r="1.3"/>
<circle cx="176.6" cy="1373.8" r="1.3"/>
<circle cx="173.0" cy="1380.2" r="1.3"/>
<circle cx="184.5" cy="1380.2" r="1.3"/>
<circle cx="176.6" cy="1383.8" r="1.3"/>
<circle cx="180.6" cy="1383.8" r="1.3"/>
<circle cx="176.6" cy="1387.9" r="1.3"/>
<circle cx="180.6" cy="1387.9" r="1.3"/>
<circle cx="176.6" cy="1392.5" r="1.3"/>
<circle cx="180.6" cy="1392.5" r="1.3"/>
<circle cx="172.8" cy="1397.2" r="1.3"/>
<circle cx="176.6" cy="1397.2" r="1.3"/>
<circle cx="180.4" cy="1397.2" r="1.3"/>
<circle cx="184.2" cy="1397.2" r="1.3"/>
<circle cx="170.9" cy="1403.2" r="1.3"/>
<circle cx="174.7" cy="1403.2" r="1.3"/>
<circle cx="178.5" cy="1403.2" r="1.3"/>
<circle cx="182.3" cy="1403.2" r="1.3"/>
<circle cx="186.1" cy="1403.2" r="1.3"/>
<circle cx="162.9" cy="1418.0" r="1.3"/>
<circle cx="166.8" cy="1418.0" r="1.3"/>
<circle cx="170.7" cy="1418.0" r="1.3"/>
<circle cx="174.6" cy="1418.0" r="1.3"/>
<circle cx="178.5" cy="1418.0" r="1.3"/>
<circle cx="182.4" cy="1418.0" r="1.3"/>
<circle cx="186.3" cy="1418.0" r="1.3"/>
<circle cx="190.2" cy="1418.0" r="1.3"/>
<circle cx="194.1" cy="1418.0" r="1.3"/>
<circle cx="152.9" cy="1429.4" r="1.3"/>
<circle cx="156.6" cy="1429.4" r="1.3"/>
<circle cx="160.2" cy="1429.4" r="1.3"/>
<circle cx="163.9" cy="1429.4" r="1.3"/>
<circle cx="167.6" cy="1429.4" r="1.3"/>
<circle cx="171.3" cy="1429.4" r="1.3"/>
<circle cx="174.9" cy="1429.4" r="1.3"/>
<circle cx="178.6" cy="1429.4" r="1.3"/>
<circle cx="182.3" cy="1429.4" r="1.3"/>
<circle cx="185.9" cy="1429.4" r="1.3"/>
<circle cx="189.6" cy="1429.4" r="1.3"/>
<circle cx="193.3" cy="1429.4" r="1.3"/>
<circle cx="197.0" cy="1429.4" r="1.3"/>
<circle cx="200.6" cy="1429.4" r="1.3"/>
<circle cx="204.3" cy="1429.4" r="1.3"/>
<circle cx="159.4" cy="1444.4" r="1.3"/>
<circle cx="163.3" cy="1444.4" r="1.3"/>
<circle cx="167.2" cy="1444.4" r="1.3"/>
<circle cx="171.0" cy="1444.4" r="1.3"/>
<circle cx="174.9" cy="1444.4" r="1.3"/>
<circle cx="178.8" cy="1444.4" r="1.3"/>
<circle cx="182.7" cy="1444.4" r="1.3"/>
<circle cx="186.6" cy="1444.4" r="1.3"/>
<circle cx="190.4" cy="1444.4" r="1.3"/>
<circle cx="194.3" cy="1444.4" r="1.3"/>
<circle cx="198.2" cy="1444.4" r="1.3"/>
<circle cx="168.7" cy="1470.0" r="1.3"/>
<circle cx="172.7" cy="1470.0" r="1.3"/>
<circle cx="176.7" cy="1470.0" r="1.3"/>
<circle cx="180.8" cy="1470.0" r="1.3"/>
<circle cx="184.8" cy="1470.0" r="1.3"/>
<circle cx="188.8" cy="1470.0" r="1.3"/>
<circle cx="257.8" cy="1243.8" r="1.3"/>
<circle cx="261.7" cy="1245.7" r="1.3"/>
<circle cx="265.6" cy="1244.9" r="1.3"/>
<circle cx="261.7" cy="1269.4" r="1.3"/>
<circle cx="263.6" cy="1272.3" r="1.3"/>
<circle cx="259.8" cy="1274.9" r="1.3"/>
<circle cx="259.8" cy="1286.1" r="1.3"/>
<circle cx="265.6" cy="1286.1" r="1.3"/>
<circle cx="263.6" cy="1289.3" r="1.3"/>
<circle cx="259.8" cy="1292.0" r="1.3"/>
<circle cx="261.7" cy="1296.6" r="1.3"/>
<circle cx="253.9" cy="1300.9" r="1.3"/>
<circle cx="257.8" cy="1301.8" r="1.3"/>
<circle cx="261.7" cy="1304.4" r="1.3"/>
<circle cx="265.6" cy="1302.1" r="1.3"/>
<circle cx="269.4" cy="1301.5" r="1.3"/>
<circle cx="253.9" cy="1307.4" r="1.3"/>
<circle cx="257.8" cy="1309.1" r="1.3"/>
<circle cx="261.7" cy="1310.6" r="1.3"/>
<circle cx="265.6" cy="1308.2" r="1.3"/>
<circle cx="269.4" cy="1307.1" r="1.3"/>
<circle cx="263.6" cy="1315.3" r="1.3"/>
<circle cx="259.8" cy="1317.3" r="1.3"/>
<circle cx="252.2" cy="1319.3" r="1.3"/>
<circle cx="255.9" cy="1320.8" r="1.3"/>
<circle cx="261.7" cy="1321.6" r="1.3"/>
<circle cx="265.6" cy="1319.6" r="1.3"/>
<circle cx="269.4" cy="1319.3" r="1.3"/>
<circle cx="257.8" cy="1324.3" r="1.3"/>
<circle cx="261.7" cy="1325.8" r="1.3"/>
<circle cx="267.3" cy="1324.9" r="1.3"/>
<circle cx="257.8" cy="1329.0" r="1.3"/>
<circle cx="265.6" cy="1328.1" r="1.3"/>
<circle cx="259.5" cy="1331.5" r="1.3"/>
<circle cx="263.5" cy="1332.3" r="1.3"/>
<circle cx="256.0" cy="1335.1" r="1.3"/>
<circle cx="259.7" cy="1336.4" r="1.3"/>
<circle cx="263.6" cy="1335.1" r="1.3"/>
<circle cx="250.3" cy="1337.8" r="1.3"/>
<circle cx="269.4" cy="1338.5" r="1.3"/>
<circle cx="273.1" cy="1337.8" r="1.3"/>
<circle cx="250.3" cy="1344.9" r="1.3"/>
<circle cx="254.0" cy="1346.3" r="1.3"/>
<circle cx="273.1" cy="1344.9" r="1.3"/>
<circle cx="240.9" cy="1349.2" r="1.3"/>
<circle cx="244.5" cy="1349.2" r="1.3"/>
<circle cx="248.6" cy="1350.6" r="1.3"/>
<circle cx="274.8" cy="1350.6" r="1.3"/>
<circle cx="278.9" cy="1349.2" r="1.3"/>
<circle cx="282.6" cy="1349.2" r="1.3"/>
<circle cx="252.3" cy="1352.6" r="1.3"/>
<circle cx="256.0" cy="1353.3" r="1.3"/>
<circle cx="254.0" cy="1354.0" r="1.3"/>
<circle cx="261.6" cy="1352.6" r="1.3"/>
<circle cx="265.4" cy="1352.6" r="1.3"/>
<circle cx="271.2" cy="1352.6" r="1.3"/>
<circle cx="257.7" cy="1355.7" r="1.3"/>
<circle cx="261.6" cy="1357.6" r="1.3"/>
<circle cx="265.4" cy="1357.6" r="1.3"/>
<circle cx="269.4" cy="1355.7" r="1.3"/>
<circle cx="248.6" cy="1359.5" r="1.3"/>
<circle cx="252.3" cy="1359.8" r="1.3"/>
<circle cx="273.1" cy="1359.8" r="1.3"/>
<circle cx="276.8" cy="1359.8" r="1.3"/>
<circle cx="268.1" cy="1363.4" r="1.3"/>
<circle cx="238.5" cy="1368.4" r="1.3"/>
<circle cx="242.5" cy="1368.4" r="1.3"/>
<circle cx="246.3" cy="1368.4" r="1.3"/>
<circle cx="280.5" cy="1368.4" r="1.3"/>
<circle cx="284.2" cy="1368.4" r="1.3"/>
<circle cx="250.3" cy="1371.0" r="1.3"/>
<circle cx="256.0" cy="1371.0" r="1.3"/>
<circle cx="259.7" cy="1371.0" r="1.3"/>
<circle cx="263.6" cy="1371.0" r="1.3"/>
<circle cx="267.4" cy="1371.0" r="1.3"/>
<circle cx="273.1" cy="1371.0" r="1.3"/>
<circle cx="276.8" cy="1371.0" r="1.3"/>
<circle cx="252.3" cy="1373.7" r="1.3"/>
<circle cx="271.2" cy="1373.7" r="1.3"/>
<circle cx="255.8" cy="1341.2" r="1.3"/>
<circle cx="259.6" cy="1341.2" r="1.3"/>
<circle cx="263.4" cy="1341.2" r="1.3"/>
<circle cx="267.2" cy="1341.2" r="1.3"/>
<circle cx="255.8" cy="1347.9" r="1.3"/>
<circle cx="259.6" cy="1347.9" r="1.3"/>
<circle cx="263.4" cy="1347.9" r="1.3"/>
<circle cx="267.2" cy="1347.9" r="1.3"/>
<circle cx="255.8" cy="1361.6" r="1.3"/>
<circle cx="259.6" cy="1361.6" r="1.3"/>
<circle cx="263.4" cy="1361.6" r="1.3"/>
<circle cx="267.2" cy="1361.6" r="1.3"/>
<circle cx="257.7" cy="1366.0" r="1.3"/>
<circle cx="261.5" cy="1366.0" r="1.3"/>
<circle cx="265.3" cy="1366.0" r="1.3"/>
<circle cx="255.8" cy="1376.6" r="1.3"/>
<circle cx="259.6" cy="1376.6" r="1.3"/>
<circle cx="263.4" cy="1376.6" r="1.3"/>
<circle cx="267.2" cy="1376.6" r="1.3"/>
<circle cx="235.8" cy="1380.2" r="1.3"/>
<circle cx="238.9" cy="1380.2" r="1.3"/>
<circle cx="242.1" cy="1380.2" r="1.3"/>
<circle cx="245.2" cy="1380.2" r="1.3"/>
<circle cx="275.5" cy="1380.2" r="1.3"/>
<circle cx="279.5" cy="1380.2" r="1.3"/>
<circle cx="283.6" cy="1380.2" r="1.3"/>
<circle cx="287.6" cy="1380.2" r="1.3"/>
<circle cx="245.9" cy="1383.6" r="1.3"/>
<circle cx="249.1" cy="1383.6" r="1.3"/>
<circle cx="252.3" cy="1383.6" r="1.3"/>
<circle cx="255.5" cy="1383.6" r="1.3"/>
<circle cx="258.7" cy="1383.6" r="1.3"/>
<circle cx="262.0" cy="1383.6" r="1.3"/>
<circle cx="265.2" cy="1383.6" r="1.3"/>
<circle cx="268.4" cy="1383.6" r="1.3"/>
<circle cx="271.6" cy="1383.6" r="1.3"/>
<circle cx="274.8" cy="1383.6" r="1.3"/>
<circle cx="252.1" cy="1387.6" r="1.3"/>
<circle cx="255.8" cy="1387.6" r="1.3"/>
<circle cx="259.6" cy="1387.6" r="1.3"/>
<circle cx="263.4" cy="1387.6" r="1.3"/>
<circle cx="267.2" cy="1387.6" r="1.3"/>
<circle cx="270.9" cy="1387.6" r="1.3"/>
<circle cx="235.1" cy="1392.1" r="1.3"/>
<circle cx="238.9" cy="1392.1" r="1.3"/>
<circle cx="242.7" cy="1392.1" r="1.3"/>
<circle cx="246.5" cy="1392.1" r="1.3"/>
<circle cx="250.3" cy="1392.1" r="1.3"/>
<circle cx="254.1" cy="1392.1" r="1.3"/>
<circle cx="257.9" cy="1392.1" r="1.3"/>
<circle cx="261.7" cy="1392.1" r="1.3"/>
<circle cx="265.5" cy="1392.1" r="1.3"/>
<circle cx="269.3" cy="1392.1" r="1.3"/>
<circle cx="273.1" cy="1392.1" r="1.3"/>
<circle cx="276.9" cy="1392.1" r="1.3"/>
<circle cx="280.7" cy="1392.1" r="1.3"/>
<circle cx="284.5" cy="1392.1" r="1.3"/>
<circle cx="288.3" cy="1392.1" r="1.3"/>
<circle cx="237.8" cy="1397.3" r="1.3"/>
<circle cx="240.7" cy="1397.3" r="1.3"/>
<circle cx="243.5" cy="1397.3" r="1.3"/>
<circle cx="246.4" cy="1397.3" r="1.3"/>
<circle cx="249.2" cy="1397.3" r="1.3"/>
<circle cx="252.1" cy="1397.3" r="1.3"/>
<circle cx="254.9" cy="1397.3" r="1.3"/>
<circle cx="257.8" cy="1397.3" r="1.3"/>
<circle cx="260.6" cy="1397.3" r="1.3"/>
<circle cx="263.5" cy="1397.3" r="1.3"/>
<circle cx="266.3" cy="1397.3" r="1.3"/>
<circle cx="269.2" cy="1397.3" r="1.3"/>
<circle cx="272.0" cy="1397.3" r="1.3"/>
<circle cx="274.9" cy="1397.3" r="1.3"/>
<circle cx="277.7" cy="1397.3" r="1.3"/>
<circle cx="280.6" cy="1397.3" r="1.3"/>
<circle cx="283.4" cy="1397.3" r="1.3"/>
<circle cx="286.3" cy="1397.3" r="1.3"/>
<circle cx="234.4" cy="1409.8" r="1.3"/>
<circle cx="237.0" cy="1409.8" r="1.3"/>
<circle cx="239.6" cy="1409.8" r="1.3"/>
<circle cx="242.2" cy="1409.8" r="1.3"/>
<circle cx="244.8" cy="1409.8" r="1.3"/>
<circle cx="247.4" cy="1409.8" r="1.3"/>
<circle cx="250.0" cy="1409.8" r="1.3"/>
<circle cx="252.6" cy="1409.8" r="1.3"/>
<circle cx="255.2" cy="1409.8" r="1.3"/>
<circle cx="257.8" cy="1409.8" r="1.3"/>
<circle cx="260.4" cy="1409.8" r="1.3"/>
<circle cx="263.0" cy="1409.8" r="1.3"/>
<circle cx="265.6" cy="1409.8" r="1.3"/>
<circle cx="268.2" cy="1409.8" r="1.3"/>
<circle cx="270.8" cy="1409.8" r="1.3"/>
<circle cx="273.4" cy="1409.8" r="1.3"/>
<circle cx="276.0" cy="1409.8" r="1.3"/>
<circle cx="278.6" cy="1409.8" r="1.3"/>
<circle cx="281.2" cy="1409.8" r="1.3"/>
<circle cx="283.8" cy="1409.8" r="1.3"/>
<circle cx="286.4" cy="1409.8" r="1.3"/>
<circle cx="289.0" cy="1409.8" r="1.3"/>
<rect x="234.8" y="1417.00" width="53.8" height="2.40"/>
<rect x="234.8" y="1427.90" width="53.8" height="2.40"/>
<rect x="235.5" y="1442.90" width="52.4" height="2.40"/>
<circle cx="236.2" cy="1470.4" r="1.3"/>
<circle cx="238.8" cy="1470.4" r="1.3"/>
<circle cx="241.3" cy="1470.4" r="1.3"/>
<circle cx="243.8" cy="1470.4" r="1.3"/>
<circle cx="246.4" cy="1470.4" r="1.3"/>
<circle cx="248.9" cy="1470.4" r="1.3"/>
<circle cx="251.5" cy="1470.4" r="1.3"/>
<circle cx="254.0" cy="1470.4" r="1.3"/>
<circle cx="256.6" cy="1470.4" r="1.3"/>
<circle cx="259.1" cy="1470.4" r="1.3"/>
<circle cx="261.7" cy="1470.4" r="1.3"/>
<circle cx="264.2" cy="1470.4" r="1.3"/>
<circle cx="266.8" cy="1470.4" r="1.3"/>
<circle cx="269.3" cy="1470.4" r="1.3"/>
<circle cx="271.9" cy="1470.4" r="1.3"/>
<circle cx="274.4" cy="1470.4" r="1.3"/>
<circle cx="277.0" cy="1470.4" r="1.3"/>
<circle cx="279.6" cy="1470.4" r="1.3"/>
<circle cx="282.1" cy="1470.4" r="1.3"/>
<circle cx="284.6" cy="1470.4" r="1.3"/>
<circle cx="287.2" cy="1470.4" r="1.3"/>
<circle cx="411.9" cy="1339.7" r="1.3"/>
<circle cx="415.9" cy="1343.1" r="1.3"/>
<circle cx="413.8" cy="1349.4" r="1.3"/>
<circle cx="413.8" cy="1357.8" r="1.3"/>
<circle cx="413.8" cy="1363.9" r="1.3"/>
<circle cx="417.6" cy="1365.3" r="1.3"/>
<circle cx="408.2" cy="1367.9" r="1.3"/>
<circle cx="413.8" cy="1368.6" r="1.3"/>
<circle cx="410.0" cy="1370.9" r="1.3"/>
<circle cx="417.6" cy="1371.8" r="1.3"/>
<circle cx="411.9" cy="1375.2" r="1.3"/>
<circle cx="413.8" cy="1374.0" r="1.3"/>
<circle cx="415.7" cy="1379.0" r="1.3"/>
<circle cx="413.8" cy="1383.5" r="1.3"/>
<circle cx="408.2" cy="1386.9" r="1.3"/>
<circle cx="417.6" cy="1386.2" r="1.3"/>
<circle cx="406.2" cy="1389.5" r="1.3"/>
<circle cx="413.8" cy="1388.2" r="1.3"/>
<circle cx="410.0" cy="1390.5" r="1.3"/>
<circle cx="421.4" cy="1389.8" r="1.3"/>
<circle cx="408.2" cy="1393.3" r="1.3"/>
<circle cx="413.8" cy="1392.5" r="1.3"/>
<circle cx="417.6" cy="1392.3" r="1.3"/>
<circle cx="411.9" cy="1395.2" r="1.3"/>
<circle cx="421.4" cy="1394.4" r="1.3"/>
<circle cx="408.2" cy="1398.4" r="1.3"/>
<circle cx="415.7" cy="1398.9" r="1.3"/>
<circle cx="417.6" cy="1396.2" r="1.3"/>
<circle cx="419.5" cy="1397.3" r="1.3"/>
<circle cx="411.9" cy="1401.1" r="1.3"/>
<circle cx="417.6" cy="1403.5" r="1.3"/>
<circle cx="408.2" cy="1404.9" r="1.3"/>
<circle cx="410.0" cy="1405.9" r="1.3"/>
<circle cx="413.8" cy="1405.2" r="1.3"/>
<circle cx="406.0" cy="1409.5" r="1.3"/>
<circle cx="410.0" cy="1409.0" r="1.3"/>
<circle cx="417.0" cy="1409.5" r="1.3"/>
<circle cx="421.0" cy="1410.0" r="1.3"/>
<circle cx="406.2" cy="1412.4" r="1.3"/>
<circle cx="410.0" cy="1413.5" r="1.3"/>
<circle cx="413.8" cy="1413.8" r="1.3"/>
<circle cx="417.6" cy="1413.5" r="1.3"/>
<circle cx="421.4" cy="1411.9" r="1.3"/>
<circle cx="402.2" cy="1415.9" r="1.3"/>
<circle cx="423.2" cy="1415.9" r="1.3"/>
<circle cx="402.2" cy="1420.1" r="1.3"/>
<circle cx="406.2" cy="1421.2" r="1.3"/>
<circle cx="410.0" cy="1422.0" r="1.3"/>
<circle cx="413.8" cy="1422.2" r="1.3"/>
<circle cx="417.6" cy="1422.0" r="1.3"/>
<circle cx="423.2" cy="1422.8" r="1.3"/>
<circle cx="402.6" cy="1424.6" r="1.3"/>
<circle cx="406.2" cy="1425.7" r="1.3"/>
<circle cx="408.2" cy="1427.8" r="1.3"/>
<circle cx="411.9" cy="1427.1" r="1.3"/>
<circle cx="415.7" cy="1426.0" r="1.3"/>
<circle cx="419.5" cy="1424.9" r="1.3"/>
<circle cx="419.5" cy="1428.9" r="1.3"/>
<circle cx="411.9" cy="1430.9" r="1.3"/>
<circle cx="415.7" cy="1431.4" r="1.3"/>
<circle cx="410.0" cy="1434.6" r="1.3"/>
<circle cx="419.5" cy="1435.2" r="1.3"/>
<circle cx="413.8" cy="1437.1" r="1.3"/>
<circle cx="417.6" cy="1438.9" r="1.3"/>
<circle cx="410.0" cy="1441.1" r="1.3"/>
<circle cx="413.8" cy="1442.2" r="1.3"/>
<circle cx="415.7" cy="1442.7" r="1.3"/>
<circle cx="411.9" cy="1446.5" r="1.3"/>
<circle cx="410.0" cy="1449.2" r="1.3"/>
<circle cx="417.6" cy="1448.6" r="1.3"/>
<circle cx="413.8" cy="1451.9" r="1.3"/>
<circle cx="419.5" cy="1454.6" r="1.3"/>
<circle cx="408.2" cy="1457.2" r="1.3"/>
<circle cx="411.9" cy="1457.8" r="1.3"/>
<circle cx="415.7" cy="1457.2" r="1.3"/>
<circle cx="417.6" cy="1459.9" r="1.3"/>
<circle cx="404.4" cy="1459.4" r="1.3"/>
<circle cx="421.4" cy="1458.6" r="1.3"/>
<circle cx="408.2" cy="1462.1" r="1.3"/>
<circle cx="413.8" cy="1462.3" r="1.3"/>
<circle cx="410.0" cy="1465.1" r="1.3"/>
<circle cx="413.8" cy="1467.5" r="1.3"/>
<circle cx="417.6" cy="1469.1" r="1.3"/>
<circle cx="419.5" cy="1467.5" r="1.3"/>
<circle cx="410.0" cy="1472.3" r="1.3"/>
<circle cx="413.8" cy="1472.9" r="1.3"/>
<circle cx="413.8" cy="1482.0" r="1.3"/>
<circle cx="413.8" cy="1490.4" r="1.3"/>
<circle cx="413.8" cy="1500.7" r="1.3"/>
<circle cx="496.6" cy="1331.7" r="1.3"/>
<circle cx="494.7" cy="1343.2" r="1.3"/>
<circle cx="498.6" cy="1346.3" r="1.3"/>
<circle cx="496.6" cy="1352.6" r="1.3"/>
<circle cx="494.7" cy="1354.4" r="1.3"/>
<circle cx="498.6" cy="1357.0" r="1.3"/>
<circle cx="491.0" cy="1362.7" r="1.3"/>
<circle cx="493.0" cy="1365.7" r="1.3"/>
<circle cx="496.6" cy="1364.7" r="1.3"/>
<circle cx="500.4" cy="1365.1" r="1.3"/>
<circle cx="502.8" cy="1363.0" r="1.3"/>
<circle cx="496.6" cy="1368.8" r="1.3"/>
<circle cx="493.0" cy="1375.9" r="1.3"/>
<circle cx="500.4" cy="1376.8" r="1.3"/>
<circle cx="496.6" cy="1378.9" r="1.3"/>
<circle cx="496.6" cy="1384.2" r="1.3"/>
<circle cx="485.4" cy="1382.4" r="1.3"/>
<circle cx="489.1" cy="1382.6" r="1.3"/>
<circle cx="492.9" cy="1382.6" r="1.3"/>
<circle cx="496.7" cy="1382.2" r="1.3"/>
<circle cx="504.3" cy="1382.6" r="1.3"/>
<circle cx="508.0" cy="1382.2" r="1.3"/>
<circle cx="483.5" cy="1385.7" r="1.3"/>
<circle cx="487.2" cy="1385.2" r="1.3"/>
<circle cx="491.0" cy="1385.5" r="1.3"/>
<circle cx="498.6" cy="1385.4" r="1.3"/>
<circle cx="502.4" cy="1385.3" r="1.3"/>
<circle cx="506.1" cy="1385.3" r="1.3"/>
<circle cx="509.9" cy="1386.1" r="1.3"/>
<circle cx="485.4" cy="1388.9" r="1.3"/>
<circle cx="492.9" cy="1389.0" r="1.3"/>
<circle cx="500.5" cy="1389.4" r="1.3"/>
<circle cx="504.3" cy="1389.6" r="1.3"/>
<circle cx="508.0" cy="1389.7" r="1.3"/>
<circle cx="494.8" cy="1392.6" r="1.3"/>
<circle cx="498.6" cy="1392.3" r="1.3"/>
<circle cx="502.4" cy="1392.5" r="1.3"/>
<circle cx="489.1" cy="1395.7" r="1.3"/>
<circle cx="492.9" cy="1396.0" r="1.3"/>
<circle cx="496.7" cy="1396.5" r="1.3"/>
<circle cx="500.5" cy="1396.0" r="1.3"/>
<circle cx="504.3" cy="1396.4" r="1.3"/>
<circle cx="483.5" cy="1400.2" r="1.3"/>
<circle cx="487.2" cy="1399.9" r="1.3"/>
<circle cx="491.0" cy="1399.2" r="1.3"/>
<circle cx="494.8" cy="1399.6" r="1.3"/>
<circle cx="498.6" cy="1399.2" r="1.3"/>
<circle cx="502.4" cy="1399.4" r="1.3"/>
<circle cx="509.9" cy="1400.0" r="1.3"/>
<circle cx="496.7" cy="1403.1" r="1.3"/>
<circle cx="500.5" cy="1403.5" r="1.3"/>
<circle cx="504.3" cy="1403.4" r="1.3"/>
<circle cx="487.2" cy="1407.1" r="1.3"/>
<circle cx="491.0" cy="1407.1" r="1.3"/>
<circle cx="494.8" cy="1406.5" r="1.3"/>
<circle cx="498.6" cy="1407.1" r="1.3"/>
<circle cx="502.4" cy="1407.1" r="1.3"/>
<circle cx="506.1" cy="1406.5" r="1.3"/>
<circle cx="485.4" cy="1409.9" r="1.3"/>
<circle cx="489.1" cy="1409.8" r="1.3"/>
<circle cx="492.9" cy="1410.7" r="1.3"/>
<circle cx="496.7" cy="1409.7" r="1.3"/>
<circle cx="504.3" cy="1410.1" r="1.3"/>
<circle cx="508.0" cy="1410.3" r="1.3"/>
<circle cx="483.5" cy="1413.7" r="1.3"/>
<circle cx="487.2" cy="1413.3" r="1.3"/>
<circle cx="494.8" cy="1413.7" r="1.3"/>
<circle cx="498.6" cy="1413.3" r="1.3"/>
<circle cx="502.4" cy="1414.1" r="1.3"/>
<circle cx="506.1" cy="1414.0" r="1.3"/>
<circle cx="509.9" cy="1413.6" r="1.3"/>
<circle cx="485.4" cy="1417.5" r="1.3"/>
<circle cx="489.1" cy="1417.2" r="1.3"/>
<circle cx="496.7" cy="1417.7" r="1.3"/>
<circle cx="500.5" cy="1417.2" r="1.3"/>
<circle cx="504.3" cy="1417.2" r="1.3"/>
<circle cx="508.0" cy="1417.1" r="1.3"/>
<circle cx="481.6" cy="1419.9" r="1.3"/>
<circle cx="485.4" cy="1419.8" r="1.3"/>
<circle cx="489.1" cy="1420.1" r="1.3"/>
<circle cx="492.9" cy="1420.2" r="1.3"/>
<circle cx="496.7" cy="1420.1" r="1.3"/>
<circle cx="500.5" cy="1419.8" r="1.3"/>
<circle cx="504.3" cy="1420.5" r="1.3"/>
<circle cx="508.0" cy="1419.9" r="1.3"/>
<circle cx="511.8" cy="1420.6" r="1.3"/>
<circle cx="472.1" cy="1423.6" r="1.3"/>
<circle cx="479.7" cy="1424.1" r="1.3"/>
<circle cx="483.5" cy="1423.4" r="1.3"/>
<circle cx="487.2" cy="1423.6" r="1.3"/>
<circle cx="491.0" cy="1423.4" r="1.3"/>
<circle cx="494.8" cy="1423.9" r="1.3"/>
<circle cx="498.6" cy="1423.8" r="1.3"/>
<circle cx="502.4" cy="1423.3" r="1.3"/>
<circle cx="506.1" cy="1423.9" r="1.3"/>
<circle cx="509.9" cy="1423.6" r="1.3"/>
<circle cx="513.7" cy="1423.7" r="1.3"/>
<circle cx="517.5" cy="1424.0" r="1.3"/>
<circle cx="521.3" cy="1423.5" r="1.3"/>
<circle cx="474.0" cy="1427.3" r="1.3"/>
<circle cx="477.8" cy="1427.5" r="1.3"/>
<circle cx="481.6" cy="1427.8" r="1.3"/>
<circle cx="485.4" cy="1427.2" r="1.3"/>
<circle cx="489.1" cy="1427.0" r="1.3"/>
<circle cx="492.9" cy="1426.8" r="1.3"/>
<circle cx="496.7" cy="1427.6" r="1.3"/>
<circle cx="500.5" cy="1427.7" r="1.3"/>
<circle cx="504.3" cy="1427.5" r="1.3"/>
<circle cx="508.0" cy="1427.4" r="1.3"/>
<circle cx="511.8" cy="1427.6" r="1.3"/>
<circle cx="519.4" cy="1427.5" r="1.3"/>
<circle cx="475.9" cy="1431.1" r="1.3"/>
<circle cx="479.7" cy="1431.3" r="1.3"/>
<circle cx="483.5" cy="1430.6" r="1.3"/>
<circle cx="487.2" cy="1431.0" r="1.3"/>
<circle cx="491.0" cy="1430.8" r="1.3"/>
<circle cx="494.8" cy="1430.5" r="1.3"/>
<circle cx="498.6" cy="1431.1" r="1.3"/>
<circle cx="502.4" cy="1430.6" r="1.3"/>
<circle cx="506.1" cy="1431.2" r="1.3"/>
<circle cx="509.9" cy="1430.8" r="1.3"/>
<circle cx="513.7" cy="1431.2" r="1.3"/>
<circle cx="517.5" cy="1431.2" r="1.3"/>
<circle cx="474.0" cy="1434.3" r="1.3"/>
<circle cx="477.8" cy="1434.8" r="1.3"/>
<circle cx="485.4" cy="1434.1" r="1.3"/>
<circle cx="489.1" cy="1434.1" r="1.3"/>
<circle cx="492.9" cy="1434.5" r="1.3"/>
<circle cx="496.7" cy="1433.9" r="1.3"/>
<circle cx="500.5" cy="1434.3" r="1.3"/>
<circle cx="504.3" cy="1434.9" r="1.3"/>
<circle cx="508.0" cy="1434.4" r="1.3"/>
<circle cx="511.8" cy="1434.6" r="1.3"/>
<circle cx="515.6" cy="1434.8" r="1.3"/>
<circle cx="519.4" cy="1434.8" r="1.3"/>
<circle cx="472.1" cy="1437.8" r="1.3"/>
<circle cx="475.9" cy="1437.6" r="1.3"/>
<circle cx="479.7" cy="1437.5" r="1.3"/>
<circle cx="483.5" cy="1437.7" r="1.3"/>
<circle cx="487.2" cy="1437.8" r="1.3"/>
<circle cx="491.0" cy="1437.5" r="1.3"/>
<circle cx="494.8" cy="1437.6" r="1.3"/>
<circle cx="498.6" cy="1437.5" r="1.3"/>
<circle cx="502.4" cy="1438.1" r="1.3"/>
<circle cx="506.1" cy="1437.7" r="1.3"/>
<circle cx="509.9" cy="1437.8" r="1.3"/>
<circle cx="513.7" cy="1438.3" r="1.3"/>
<circle cx="521.3" cy="1437.9" r="1.3"/>
<circle cx="470.2" cy="1441.1" r="1.3"/>
<circle cx="474.0" cy="1441.3" r="1.3"/>
<circle cx="477.8" cy="1441.2" r="1.3"/>
<circle cx="481.6" cy="1442.0" r="1.3"/>
<circle cx="485.4" cy="1441.1" r="1.3"/>
<circle cx="489.1" cy="1441.0" r="1.3"/>
<circle cx="492.9" cy="1442.0" r="1.3"/>
<circle cx="496.7" cy="1441.7" r="1.3"/>
<circle cx="500.5" cy="1441.4" r="1.3"/>
<circle cx="504.3" cy="1441.8" r="1.3"/>
<circle cx="508.0" cy="1441.8" r="1.3"/>
<circle cx="511.8" cy="1441.2" r="1.3"/>
<circle cx="515.6" cy="1442.0" r="1.3"/>
<circle cx="519.4" cy="1441.8" r="1.3"/>
<circle cx="523.2" cy="1441.7" r="1.3"/>
<circle cx="472.1" cy="1445.1" r="1.3"/>
<circle cx="475.9" cy="1444.6" r="1.3"/>
<circle cx="479.7" cy="1444.8" r="1.3"/>
<circle cx="483.5" cy="1445.2" r="1.3"/>
<circle cx="491.0" cy="1445.5" r="1.3"/>
<circle cx="502.4" cy="1444.8" r="1.3"/>
<circle cx="506.1" cy="1444.7" r="1.3"/>
<circle cx="509.9" cy="1445.2" r="1.3"/>
<circle cx="513.7" cy="1445.4" r="1.3"/>
<circle cx="517.5" cy="1445.2" r="1.3"/>
<circle cx="521.3" cy="1444.6" r="1.3"/>
<circle cx="470.2" cy="1449.0" r="1.3"/>
<circle cx="474.0" cy="1448.9" r="1.3"/>
<circle cx="477.8" cy="1448.3" r="1.3"/>
<circle cx="481.6" cy="1448.4" r="1.3"/>
<circle cx="485.4" cy="1449.1" r="1.3"/>
<circle cx="489.1" cy="1448.5" r="1.3"/>
<circle cx="496.7" cy="1448.3" r="1.3"/>
<circle cx="500.5" cy="1448.3" r="1.3"/>
<circle cx="504.3" cy="1448.9" r="1.3"/>
<circle cx="508.0" cy="1448.9" r="1.3"/>
<circle cx="515.6" cy="1448.5" r="1.3"/>
<circle cx="519.4" cy="1448.2" r="1.3"/>
<circle cx="523.2" cy="1449.1" r="1.3"/>
<circle cx="472.1" cy="1452.2" r="1.3"/>
<circle cx="475.9" cy="1452.1" r="1.3"/>
<circle cx="479.7" cy="1452.5" r="1.3"/>
<circle cx="483.5" cy="1451.9" r="1.3"/>
<circle cx="487.2" cy="1451.9" r="1.3"/>
<circle cx="491.0" cy="1451.9" r="1.3"/>
<circle cx="494.8" cy="1451.8" r="1.3"/>
<circle cx="498.6" cy="1452.0" r="1.3"/>
<circle cx="502.4" cy="1452.2" r="1.3"/>
<circle cx="506.1" cy="1452.1" r="1.3"/>
<circle cx="509.9" cy="1452.2" r="1.3"/>
<circle cx="513.7" cy="1452.2" r="1.3"/>
<circle cx="517.5" cy="1452.1" r="1.3"/>
<circle cx="521.3" cy="1451.7" r="1.3"/>
<circle cx="474.0" cy="1455.4" r="1.3"/>
<circle cx="477.8" cy="1455.9" r="1.3"/>
<circle cx="481.6" cy="1455.5" r="1.3"/>
<circle cx="485.4" cy="1455.8" r="1.3"/>
<circle cx="489.1" cy="1455.3" r="1.3"/>
<circle cx="492.9" cy="1455.4" r="1.3"/>
<circle cx="496.7" cy="1456.0" r="1.3"/>
<circle cx="500.5" cy="1455.8" r="1.3"/>
<circle cx="504.3" cy="1456.1" r="1.3"/>
<circle cx="508.0" cy="1455.8" r="1.3"/>
<circle cx="511.8" cy="1455.7" r="1.3"/>
<circle cx="515.6" cy="1455.7" r="1.3"/>
<circle cx="519.4" cy="1455.7" r="1.3"/>
<circle cx="475.9" cy="1459.6" r="1.3"/>
<circle cx="483.5" cy="1459.3" r="1.3"/>
<circle cx="491.0" cy="1458.9" r="1.3"/>
<circle cx="494.8" cy="1459.2" r="1.3"/>
<circle cx="498.6" cy="1459.0" r="1.3"/>
<circle cx="502.4" cy="1459.4" r="1.3"/>
<circle cx="506.1" cy="1459.6" r="1.3"/>
<circle cx="509.9" cy="1459.5" r="1.3"/>
<circle cx="513.7" cy="1458.9" r="1.3"/>
<circle cx="517.5" cy="1459.7" r="1.3"/>
<circle cx="521.3" cy="1459.7" r="1.3"/>
<circle cx="477.8" cy="1462.8" r="1.3"/>
<circle cx="485.4" cy="1462.5" r="1.3"/>
<circle cx="489.1" cy="1462.8" r="1.3"/>
<circle cx="492.9" cy="1462.5" r="1.3"/>
<circle cx="496.7" cy="1463.0" r="1.3"/>
<circle cx="500.5" cy="1462.9" r="1.3"/>
<circle cx="504.3" cy="1462.3" r="1.3"/>
<circle cx="508.0" cy="1462.9" r="1.3"/>
<circle cx="511.8" cy="1462.4" r="1.3"/>
<circle cx="479.7" cy="1466.8" r="1.3"/>
<circle cx="483.5" cy="1466.1" r="1.3"/>
<circle cx="487.2" cy="1466.6" r="1.3"/>
<circle cx="491.0" cy="1466.0" r="1.3"/>
<circle cx="494.8" cy="1466.8" r="1.3"/>
<circle cx="498.6" cy="1466.1" r="1.3"/>
<circle cx="502.4" cy="1466.8" r="1.3"/>
<circle cx="506.1" cy="1466.6" r="1.3"/>
<circle cx="509.9" cy="1465.9" r="1.3"/>
<circle cx="513.7" cy="1466.3" r="1.3"/>
<circle cx="474.0" cy="1470.3" r="1.3"/>
<circle cx="477.8" cy="1470.2" r="1.3"/>
<circle cx="481.6" cy="1470.3" r="1.3"/>
<circle cx="485.4" cy="1470.3" r="1.3"/>
<circle cx="489.1" cy="1469.7" r="1.3"/>
<circle cx="492.9" cy="1470.3" r="1.3"/>
<circle cx="496.7" cy="1469.5" r="1.3"/>
<circle cx="500.5" cy="1469.6" r="1.3"/>
<circle cx="504.3" cy="1469.6" r="1.3"/>
<circle cx="508.0" cy="1469.6" r="1.3"/>
<circle cx="511.8" cy="1469.7" r="1.3"/>
<circle cx="515.6" cy="1469.7" r="1.3"/>
<circle cx="519.4" cy="1469.6" r="1.3"/>
<circle cx="475.9" cy="1473.0" r="1.3"/>
<circle cx="479.7" cy="1473.0" r="1.3"/>
<circle cx="483.5" cy="1473.5" r="1.3"/>
<circle cx="487.2" cy="1473.4" r="1.3"/>
<circle cx="491.0" cy="1473.1" r="1.3"/>
<circle cx="494.8" cy="1473.4" r="1.3"/>
<circle cx="498.6" cy="1473.8" r="1.3"/>
<circle cx="502.4" cy="1473.5" r="1.3"/>
<circle cx="506.1" cy="1473.9" r="1.3"/>
<circle cx="509.9" cy="1473.8" r="1.3"/>
<circle cx="513.7" cy="1473.6" r="1.3"/>
<circle cx="517.5" cy="1473.3" r="1.3"/>
<circle cx="477.8" cy="1476.6" r="1.3"/>
<circle cx="481.6" cy="1477.2" r="1.3"/>
<circle cx="485.4" cy="1476.7" r="1.3"/>
<circle cx="489.1" cy="1477.3" r="1.3"/>
<circle cx="492.9" cy="1477.2" r="1.3"/>
<circle cx="496.7" cy="1476.7" r="1.3"/>
<circle cx="500.5" cy="1477.0" r="1.3"/>
<circle cx="504.3" cy="1476.9" r="1.3"/>
<circle cx="508.0" cy="1477.5" r="1.3"/>
<circle cx="515.6" cy="1476.7" r="1.3"/>
<circle cx="483.5" cy="1480.4" r="1.3"/>
<circle cx="487.2" cy="1480.4" r="1.3"/>
<circle cx="491.0" cy="1480.6" r="1.3"/>
<circle cx="494.8" cy="1480.6" r="1.3"/>
<circle cx="498.6" cy="1480.3" r="1.3"/>
<circle cx="502.4" cy="1480.4" r="1.3"/>
<circle cx="506.1" cy="1480.1" r="1.3"/>
<circle cx="509.9" cy="1480.3" r="1.3"/>
<circle cx="513.7" cy="1480.6" r="1.3"/>
<circle cx="481.6" cy="1484.3" r="1.3"/>
<circle cx="485.4" cy="1484.5" r="1.3"/>
<circle cx="489.1" cy="1483.9" r="1.3"/>
<circle cx="496.7" cy="1484.3" r="1.3"/>
<circle cx="500.5" cy="1483.6" r="1.3"/>
<circle cx="504.3" cy="1484.5" r="1.3"/>
<circle cx="508.0" cy="1484.3" r="1.3"/>
<circle cx="511.8" cy="1483.7" r="1.3"/>
<circle cx="483.5" cy="1487.7" r="1.3"/>
<circle cx="487.2" cy="1488.0" r="1.3"/>
<circle cx="491.0" cy="1487.7" r="1.3"/>
<circle cx="494.8" cy="1487.8" r="1.3"/>
<circle cx="498.6" cy="1487.4" r="1.3"/>
<circle cx="502.4" cy="1487.3" r="1.3"/>
<circle cx="506.1" cy="1487.3" r="1.3"/>
<circle cx="509.9" cy="1487.7" r="1.3"/>
<circle cx="472.1" cy="1491.2" r="1.3"/>
<circle cx="475.9" cy="1491.2" r="1.3"/>
<circle cx="479.7" cy="1491.2" r="1.3"/>
<circle cx="483.5" cy="1491.2" r="1.3"/>
<circle cx="487.2" cy="1491.2" r="1.3"/>
<circle cx="491.0" cy="1491.2" r="1.3"/>
<circle cx="494.8" cy="1491.2" r="1.3"/>
<circle cx="498.6" cy="1491.2" r="1.3"/>
<circle cx="502.4" cy="1491.2" r="1.3"/>
<circle cx="506.2" cy="1491.2" r="1.3"/>
<circle cx="509.9" cy="1491.2" r="1.3"/>
<circle cx="513.7" cy="1491.2" r="1.3"/>
<circle cx="517.5" cy="1491.2" r="1.3"/>
<circle cx="521.3" cy="1491.2" r="1.3"/>
<circle cx="482.2" cy="1493.7" r="1.3"/>
<circle cx="485.8" cy="1493.7" r="1.3"/>
<circle cx="489.4" cy="1493.7" r="1.3"/>
<circle cx="493.1" cy="1493.7" r="1.3"/>
<circle cx="496.7" cy="1493.7" r="1.3"/>
<circle cx="500.3" cy="1493.7" r="1.3"/>
<circle cx="503.9" cy="1493.7" r="1.3"/>
<circle cx="507.6" cy="1493.7" r="1.3"/>
<circle cx="511.2" cy="1493.7" r="1.3"/>
<circle cx="489.4" cy="1497.8" r="1.3"/>
<circle cx="493.0" cy="1497.8" r="1.3"/>
<circle cx="500.4" cy="1497.8" r="1.3"/>
<circle cx="504.4" cy="1497.8" r="1.3"/>
<circle cx="496.6" cy="1501.5" r="1.3"/>
<circle cx="493.0" cy="1507.2" r="1.3"/>
<circle cx="496.6" cy="1507.2" r="1.3"/>
<circle cx="500.4" cy="1505.9" r="1.3"/>
<circle cx="496.6" cy="1511.5" r="1.3"/>
<circle cx="496.6" cy="1516.7" r="1.3"/>
<circle cx="499.0" cy="1517.6" r="1.3"/>
<circle cx="494.7" cy="1521.2" r="1.3"/>
</g>
</svg>
</body></html>
